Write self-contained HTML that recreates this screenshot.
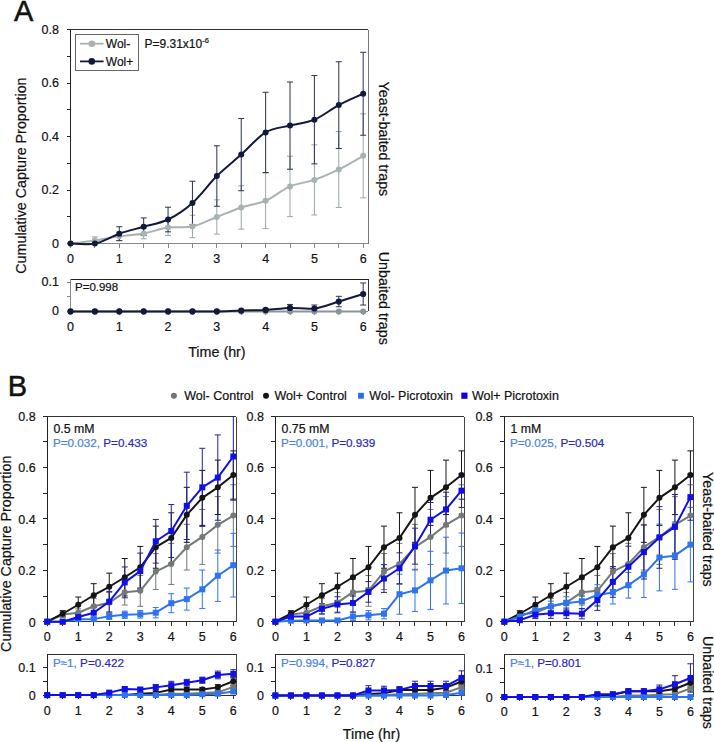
<!DOCTYPE html>
<html><head><meta charset="utf-8"><style>
html,body{margin:0;padding:0;background:#fff;width:714px;height:742px;overflow:hidden}
svg{display:block;font-family:"Liberation Sans", sans-serif}
</style></head><body>
<svg width="714" height="742" viewBox="0 0 714 742">
<rect width="714" height="742" fill="#fff"/>
<text x="13.9" y="20.6" font-size="29" text-anchor="start" fill="#111" stroke="#111" stroke-width="0.2" style="stroke-width:0.5px">A</text>
<line x1="70.5" y1="29.5" x2="368" y2="29.5" stroke="#333" stroke-width="1" shape-rendering="crispEdges"/>
<line x1="368" y1="29.5" x2="368" y2="243.6" stroke="#777" stroke-width="1" shape-rendering="crispEdges"/>
<clipPath id="ca1"><rect x="66.5" y="29.5" width="305.5" height="220.1"/></clipPath>
<g clip-path="url(#ca1)">
<line x1="94.89" y1="236.91" x2="94.89" y2="243.6" stroke="#9aa6a6" stroke-width="1" />
<line x1="91.89" y1="236.91" x2="97.89" y2="236.91" stroke="#9aa6a6" stroke-width="1" />
<line x1="91.89" y1="243.6" x2="97.89" y2="243.6" stroke="#9aa6a6" stroke-width="1" />
<line x1="119.28" y1="232.09" x2="119.28" y2="240.66" stroke="#9aa6a6" stroke-width="1" />
<line x1="116.28" y1="232.09" x2="122.28" y2="232.09" stroke="#9aa6a6" stroke-width="1" />
<line x1="116.28" y1="240.66" x2="122.28" y2="240.66" stroke="#9aa6a6" stroke-width="1" />
<line x1="143.67" y1="228.08" x2="143.67" y2="238.78" stroke="#9aa6a6" stroke-width="1" />
<line x1="140.67" y1="228.08" x2="146.67" y2="228.08" stroke="#9aa6a6" stroke-width="1" />
<line x1="140.67" y1="238.78" x2="146.67" y2="238.78" stroke="#9aa6a6" stroke-width="1" />
<line x1="168.06" y1="219.52" x2="168.06" y2="235.57" stroke="#9aa6a6" stroke-width="1" />
<line x1="165.06" y1="219.52" x2="171.06" y2="219.52" stroke="#9aa6a6" stroke-width="1" />
<line x1="165.06" y1="235.57" x2="171.06" y2="235.57" stroke="#9aa6a6" stroke-width="1" />
<line x1="192.45" y1="215.23" x2="192.45" y2="237.71" stroke="#9aa6a6" stroke-width="1" />
<line x1="189.45" y1="215.23" x2="195.45" y2="215.23" stroke="#9aa6a6" stroke-width="1" />
<line x1="189.45" y1="237.71" x2="195.45" y2="237.71" stroke="#9aa6a6" stroke-width="1" />
<line x1="216.84" y1="199.87" x2="216.84" y2="234.13" stroke="#9aa6a6" stroke-width="1" />
<line x1="213.84" y1="199.87" x2="219.84" y2="199.87" stroke="#9aa6a6" stroke-width="1" />
<line x1="213.84" y1="234.13" x2="219.84" y2="234.13" stroke="#9aa6a6" stroke-width="1" />
<line x1="241.23" y1="185.8" x2="241.23" y2="229.15" stroke="#9aa6a6" stroke-width="1" />
<line x1="238.23" y1="185.8" x2="244.23" y2="185.8" stroke="#9aa6a6" stroke-width="1" />
<line x1="238.23" y1="229.15" x2="244.23" y2="229.15" stroke="#9aa6a6" stroke-width="1" />
<line x1="265.62" y1="172.95" x2="265.62" y2="228.61" stroke="#9aa6a6" stroke-width="1" />
<line x1="262.62" y1="172.95" x2="268.62" y2="172.95" stroke="#9aa6a6" stroke-width="1" />
<line x1="262.62" y1="228.61" x2="268.62" y2="228.61" stroke="#9aa6a6" stroke-width="1" />
<line x1="290.01" y1="156.18" x2="290.01" y2="216.65" stroke="#9aa6a6" stroke-width="1" />
<line x1="287.01" y1="156.18" x2="293.01" y2="156.18" stroke="#9aa6a6" stroke-width="1" />
<line x1="287.01" y1="216.65" x2="293.01" y2="216.65" stroke="#9aa6a6" stroke-width="1" />
<line x1="314.4" y1="144.86" x2="314.4" y2="214.97" stroke="#9aa6a6" stroke-width="1" />
<line x1="311.4" y1="144.86" x2="317.4" y2="144.86" stroke="#9aa6a6" stroke-width="1" />
<line x1="311.4" y1="214.97" x2="317.4" y2="214.97" stroke="#9aa6a6" stroke-width="1" />
<line x1="338.79" y1="131.48" x2="338.79" y2="207.47" stroke="#9aa6a6" stroke-width="1" />
<line x1="335.79" y1="131.48" x2="341.79" y2="131.48" stroke="#9aa6a6" stroke-width="1" />
<line x1="335.79" y1="207.47" x2="341.79" y2="207.47" stroke="#9aa6a6" stroke-width="1" />
<line x1="363.18" y1="113.81" x2="363.18" y2="197.84" stroke="#9aa6a6" stroke-width="1" />
<line x1="360.18" y1="113.81" x2="366.18" y2="113.81" stroke="#9aa6a6" stroke-width="1" />
<line x1="360.18" y1="197.84" x2="366.18" y2="197.84" stroke="#9aa6a6" stroke-width="1" />
<line x1="119.28" y1="226.74" x2="119.28" y2="240.66" stroke="#2a3150" stroke-width="1" />
<line x1="116.28" y1="226.74" x2="122.28" y2="226.74" stroke="#2a3150" stroke-width="1" />
<line x1="116.28" y1="240.66" x2="122.28" y2="240.66" stroke="#2a3150" stroke-width="1" />
<line x1="143.67" y1="217.91" x2="143.67" y2="235.57" stroke="#2a3150" stroke-width="1" />
<line x1="140.67" y1="217.91" x2="146.67" y2="217.91" stroke="#2a3150" stroke-width="1" />
<line x1="140.67" y1="235.57" x2="146.67" y2="235.57" stroke="#2a3150" stroke-width="1" />
<line x1="168.06" y1="207.21" x2="168.06" y2="231.83" stroke="#2a3150" stroke-width="1" />
<line x1="165.06" y1="207.21" x2="171.06" y2="207.21" stroke="#2a3150" stroke-width="1" />
<line x1="165.06" y1="231.83" x2="171.06" y2="231.83" stroke="#2a3150" stroke-width="1" />
<line x1="192.45" y1="181.25" x2="192.45" y2="224.6" stroke="#2a3150" stroke-width="1" />
<line x1="189.45" y1="181.25" x2="195.45" y2="181.25" stroke="#2a3150" stroke-width="1" />
<line x1="189.45" y1="224.6" x2="195.45" y2="224.6" stroke="#2a3150" stroke-width="1" />
<line x1="216.84" y1="145.77" x2="216.84" y2="206.24" stroke="#2a3150" stroke-width="1" />
<line x1="213.84" y1="145.77" x2="219.84" y2="145.77" stroke="#2a3150" stroke-width="1" />
<line x1="213.84" y1="206.24" x2="219.84" y2="206.24" stroke="#2a3150" stroke-width="1" />
<line x1="241.23" y1="118.47" x2="241.23" y2="190.72" stroke="#2a3150" stroke-width="1" />
<line x1="238.23" y1="118.47" x2="244.23" y2="118.47" stroke="#2a3150" stroke-width="1" />
<line x1="238.23" y1="190.72" x2="244.23" y2="190.72" stroke="#2a3150" stroke-width="1" />
<line x1="265.62" y1="92.27" x2="265.62" y2="172.55" stroke="#2a3150" stroke-width="1" />
<line x1="262.62" y1="92.27" x2="268.62" y2="92.27" stroke="#2a3150" stroke-width="1" />
<line x1="262.62" y1="172.55" x2="268.62" y2="172.55" stroke="#2a3150" stroke-width="1" />
<line x1="290.01" y1="81.97" x2="290.01" y2="169.21" stroke="#2a3150" stroke-width="1" />
<line x1="287.01" y1="81.97" x2="293.01" y2="81.97" stroke="#2a3150" stroke-width="1" />
<line x1="287.01" y1="169.21" x2="293.01" y2="169.21" stroke="#2a3150" stroke-width="1" />
<line x1="314.4" y1="75.55" x2="314.4" y2="163.86" stroke="#2a3150" stroke-width="1" />
<line x1="311.4" y1="75.55" x2="317.4" y2="75.55" stroke="#2a3150" stroke-width="1" />
<line x1="311.4" y1="163.86" x2="317.4" y2="163.86" stroke="#2a3150" stroke-width="1" />
<line x1="338.79" y1="61.74" x2="338.79" y2="148.44" stroke="#2a3150" stroke-width="1" />
<line x1="335.79" y1="61.74" x2="341.79" y2="61.74" stroke="#2a3150" stroke-width="1" />
<line x1="335.79" y1="148.44" x2="341.79" y2="148.44" stroke="#2a3150" stroke-width="1" />
<line x1="363.18" y1="52.27" x2="363.18" y2="135.22" stroke="#2a3150" stroke-width="1" />
<line x1="360.18" y1="52.27" x2="366.18" y2="52.27" stroke="#2a3150" stroke-width="1" />
<line x1="360.18" y1="135.22" x2="366.18" y2="135.22" stroke="#2a3150" stroke-width="1" />
</g>
<line x1="70.5" y1="29.5" x2="70.5" y2="243.6" stroke="#222" stroke-width="1" shape-rendering="crispEdges"/>
<line x1="70.5" y1="243.6" x2="368" y2="243.6" stroke="#888" stroke-width="1" shape-rendering="crispEdges"/>
<line x1="66.5" y1="243.6" x2="70.5" y2="243.6" stroke="#222" stroke-width="1" shape-rendering="crispEdges"/>
<line x1="66.5" y1="216.84" x2="70.5" y2="216.84" stroke="#222" stroke-width="1" shape-rendering="crispEdges"/>
<line x1="66.5" y1="190.08" x2="70.5" y2="190.08" stroke="#222" stroke-width="1" shape-rendering="crispEdges"/>
<line x1="66.5" y1="163.32" x2="70.5" y2="163.32" stroke="#222" stroke-width="1" shape-rendering="crispEdges"/>
<line x1="66.5" y1="136.56" x2="70.5" y2="136.56" stroke="#222" stroke-width="1" shape-rendering="crispEdges"/>
<line x1="66.5" y1="109.8" x2="70.5" y2="109.8" stroke="#222" stroke-width="1" shape-rendering="crispEdges"/>
<line x1="66.5" y1="83.04" x2="70.5" y2="83.04" stroke="#222" stroke-width="1" shape-rendering="crispEdges"/>
<line x1="66.5" y1="56.28" x2="70.5" y2="56.28" stroke="#222" stroke-width="1" shape-rendering="crispEdges"/>
<line x1="66.5" y1="29.52" x2="70.5" y2="29.52" stroke="#222" stroke-width="1" shape-rendering="crispEdges"/>
<text x="59" y="247.6" font-size="12.5" text-anchor="end" fill="#111" stroke="#111" stroke-width="0.2" >0</text>
<text x="59" y="194.08" font-size="12.5" text-anchor="end" fill="#111" stroke="#111" stroke-width="0.2" >0.2</text>
<text x="59" y="140.56" font-size="12.5" text-anchor="end" fill="#111" stroke="#111" stroke-width="0.2" >0.4</text>
<text x="59" y="87.04" font-size="12.5" text-anchor="end" fill="#111" stroke="#111" stroke-width="0.2" >0.6</text>
<text x="59" y="33.52" font-size="12.5" text-anchor="end" fill="#111" stroke="#111" stroke-width="0.2" >0.8</text>
<line x1="70.5" y1="243.6" x2="70.5" y2="247.6" stroke="#888" stroke-width="1" shape-rendering="crispEdges"/>
<line x1="94.89" y1="243.6" x2="94.89" y2="247.6" stroke="#888" stroke-width="1" shape-rendering="crispEdges"/>
<line x1="119.28" y1="243.6" x2="119.28" y2="247.6" stroke="#888" stroke-width="1" shape-rendering="crispEdges"/>
<line x1="143.67" y1="243.6" x2="143.67" y2="247.6" stroke="#888" stroke-width="1" shape-rendering="crispEdges"/>
<line x1="168.06" y1="243.6" x2="168.06" y2="247.6" stroke="#888" stroke-width="1" shape-rendering="crispEdges"/>
<line x1="192.45" y1="243.6" x2="192.45" y2="247.6" stroke="#888" stroke-width="1" shape-rendering="crispEdges"/>
<line x1="216.84" y1="243.6" x2="216.84" y2="247.6" stroke="#888" stroke-width="1" shape-rendering="crispEdges"/>
<line x1="241.23" y1="243.6" x2="241.23" y2="247.6" stroke="#888" stroke-width="1" shape-rendering="crispEdges"/>
<line x1="265.62" y1="243.6" x2="265.62" y2="247.6" stroke="#888" stroke-width="1" shape-rendering="crispEdges"/>
<line x1="290.01" y1="243.6" x2="290.01" y2="247.6" stroke="#888" stroke-width="1" shape-rendering="crispEdges"/>
<line x1="314.4" y1="243.6" x2="314.4" y2="247.6" stroke="#888" stroke-width="1" shape-rendering="crispEdges"/>
<line x1="338.79" y1="243.6" x2="338.79" y2="247.6" stroke="#888" stroke-width="1" shape-rendering="crispEdges"/>
<line x1="363.18" y1="243.6" x2="363.18" y2="247.6" stroke="#888" stroke-width="1" shape-rendering="crispEdges"/>
<text x="70.5" y="263.1" font-size="12.5" text-anchor="middle" fill="#111" stroke="#111" stroke-width="0.2" >0</text>
<text x="119.28" y="263.1" font-size="12.5" text-anchor="middle" fill="#111" stroke="#111" stroke-width="0.2" >1</text>
<text x="168.06" y="263.1" font-size="12.5" text-anchor="middle" fill="#111" stroke="#111" stroke-width="0.2" >2</text>
<text x="216.84" y="263.1" font-size="12.5" text-anchor="middle" fill="#111" stroke="#111" stroke-width="0.2" >3</text>
<text x="265.62" y="263.1" font-size="12.5" text-anchor="middle" fill="#111" stroke="#111" stroke-width="0.2" >4</text>
<text x="314.4" y="263.1" font-size="12.5" text-anchor="middle" fill="#111" stroke="#111" stroke-width="0.2" >5</text>
<text x="363.18" y="263.1" font-size="12.5" text-anchor="middle" fill="#111" stroke="#111" stroke-width="0.2" >6</text>
<g clip-path="url(#ca1)">
<path d="M70.5,243.6 C74.56,243.06 86.76,241.59 94.89,240.39 C103.02,239.18 111.15,237.53 119.28,236.37 C127.41,235.22 135.54,234.9 143.67,233.43 C151.8,231.96 159.93,228.7 168.06,227.54 C176.19,226.38 184.32,228.23 192.45,226.47 C200.58,224.72 208.71,220.17 216.84,217 C224.97,213.83 233.1,210.18 241.23,207.47 C249.36,204.77 257.49,204.29 265.62,200.78 C273.75,197.27 281.88,189.89 290.01,186.41 C298.14,182.94 306.27,182.73 314.4,179.91 C322.53,177.09 330.66,173.49 338.79,169.47 C346.92,165.46 359.12,158.1 363.18,155.83" fill="none" stroke="#a7b3b3" stroke-width="2" stroke-linejoin="round"/>
<circle cx="70.5" cy="243.6" r="3" fill="#a7b3b3"/>
<circle cx="94.89" cy="240.39" r="3" fill="#a7b3b3"/>
<circle cx="119.28" cy="236.37" r="3" fill="#a7b3b3"/>
<circle cx="143.67" cy="233.43" r="3" fill="#a7b3b3"/>
<circle cx="168.06" cy="227.54" r="3" fill="#a7b3b3"/>
<circle cx="192.45" cy="226.47" r="3" fill="#a7b3b3"/>
<circle cx="216.84" cy="217" r="3" fill="#a7b3b3"/>
<circle cx="241.23" cy="207.47" r="3" fill="#a7b3b3"/>
<circle cx="265.62" cy="200.78" r="3" fill="#a7b3b3"/>
<circle cx="290.01" cy="186.41" r="3" fill="#a7b3b3"/>
<circle cx="314.4" cy="179.91" r="3" fill="#a7b3b3"/>
<circle cx="338.79" cy="169.47" r="3" fill="#a7b3b3"/>
<circle cx="363.18" cy="155.83" r="3" fill="#a7b3b3"/>
<path d="M70.5,243.6 C74.56,243.6 86.76,245.25 94.89,243.6 C103.02,241.95 111.15,236.51 119.28,233.7 C127.41,230.89 135.54,229.1 143.67,226.74 C151.8,224.38 159.93,223.49 168.06,219.52 C176.19,215.55 184.32,210.18 192.45,202.92 C200.58,195.67 208.71,184.06 216.84,176 C224.97,167.95 233.1,161.86 241.23,154.6 C249.36,147.33 257.49,137.25 265.62,132.41 C273.75,127.58 281.88,127.71 290.01,125.59 C298.14,123.47 306.27,123.12 314.4,119.7 C322.53,116.28 330.66,109.42 338.79,105.09 C346.92,100.76 359.12,95.64 363.18,93.74" fill="none" stroke="#111a3a" stroke-width="2" stroke-linejoin="round"/>
<circle cx="70.5" cy="243.6" r="3" fill="#111a3a"/>
<circle cx="94.89" cy="243.6" r="3" fill="#111a3a"/>
<circle cx="119.28" cy="233.7" r="3" fill="#111a3a"/>
<circle cx="143.67" cy="226.74" r="3" fill="#111a3a"/>
<circle cx="168.06" cy="219.52" r="3" fill="#111a3a"/>
<circle cx="192.45" cy="202.92" r="3" fill="#111a3a"/>
<circle cx="216.84" cy="176" r="3" fill="#111a3a"/>
<circle cx="241.23" cy="154.6" r="3" fill="#111a3a"/>
<circle cx="265.62" cy="132.41" r="3" fill="#111a3a"/>
<circle cx="290.01" cy="125.59" r="3" fill="#111a3a"/>
<circle cx="314.4" cy="119.7" r="3" fill="#111a3a"/>
<circle cx="338.79" cy="105.09" r="3" fill="#111a3a"/>
<circle cx="363.18" cy="93.74" r="3" fill="#111a3a"/>
</g>
<rect x="75.5" y="34.5" width="63" height="36" fill="#fff" stroke="#666" stroke-width="1"/>
<line x1="80" y1="43.7" x2="103.6" y2="43.7" stroke="#a7b3b3" stroke-width="1.8" />
<circle cx="91.8" cy="43.7" r="3.3" fill="#a7b3b3"/>
<line x1="80" y1="61.4" x2="103.6" y2="61.4" stroke="#111a3a" stroke-width="1.8" />
<circle cx="91.8" cy="61.4" r="3.3" fill="#111a3a"/>
<text x="105.8" y="47.8" font-size="12" text-anchor="start" fill="#111" stroke="#111" stroke-width="0.2" >Wol-</text>
<text x="105.8" y="65.5" font-size="12" text-anchor="start" fill="#111" stroke="#111" stroke-width="0.2" >Wol+</text>
<text x="144.5" y="47.7" font-size="12" fill="#111" stroke="#111" stroke-width="0.2">P=9.31x10<tspan font-size="7.5" dy="-5">-6</tspan></text>
<line x1="70.5" y1="279.3" x2="368" y2="279.3" stroke="#222" stroke-width="1" shape-rendering="crispEdges"/>
<line x1="368" y1="279.3" x2="368" y2="311.4" stroke="#333" stroke-width="1" shape-rendering="crispEdges"/>
<clipPath id="ca2"><rect x="66.5" y="279.3" width="305.5" height="38.1"/></clipPath>
<g clip-path="url(#ca2)">
<line x1="265.62" y1="308.79" x2="265.62" y2="311.11" stroke="#2a3150" stroke-width="1" />
<line x1="262.62" y1="308.79" x2="268.62" y2="308.79" stroke="#2a3150" stroke-width="1" />
<line x1="262.62" y1="311.11" x2="268.62" y2="311.11" stroke="#2a3150" stroke-width="1" />
<line x1="290.01" y1="304.44" x2="290.01" y2="311.4" stroke="#2a3150" stroke-width="1" />
<line x1="287.01" y1="304.44" x2="293.01" y2="304.44" stroke="#2a3150" stroke-width="1" />
<line x1="287.01" y1="311.4" x2="293.01" y2="311.4" stroke="#2a3150" stroke-width="1" />
<line x1="314.4" y1="305.02" x2="314.4" y2="311.4" stroke="#2a3150" stroke-width="1" />
<line x1="311.4" y1="305.02" x2="317.4" y2="305.02" stroke="#2a3150" stroke-width="1" />
<line x1="311.4" y1="311.4" x2="317.4" y2="311.4" stroke="#2a3150" stroke-width="1" />
<line x1="338.79" y1="296.32" x2="338.79" y2="306.76" stroke="#2a3150" stroke-width="1" />
<line x1="335.79" y1="296.32" x2="341.79" y2="296.32" stroke="#2a3150" stroke-width="1" />
<line x1="335.79" y1="306.76" x2="341.79" y2="306.76" stroke="#2a3150" stroke-width="1" />
<line x1="363.18" y1="282.98" x2="363.18" y2="305.02" stroke="#2a3150" stroke-width="1" />
<line x1="360.18" y1="282.98" x2="366.18" y2="282.98" stroke="#2a3150" stroke-width="1" />
<line x1="360.18" y1="305.02" x2="366.18" y2="305.02" stroke="#2a3150" stroke-width="1" />
</g>
<line x1="70.5" y1="279.3" x2="70.5" y2="311.4" stroke="#888" stroke-width="1.6" shape-rendering="crispEdges"/>
<line x1="70.5" y1="311.4" x2="368" y2="311.4" stroke="#888" stroke-width="1" shape-rendering="crispEdges"/>
<line x1="66.5" y1="311.4" x2="70.5" y2="311.4" stroke="#888" stroke-width="1" shape-rendering="crispEdges"/>
<line x1="66.5" y1="296.9" x2="70.5" y2="296.9" stroke="#888" stroke-width="1" shape-rendering="crispEdges"/>
<line x1="66.5" y1="282.4" x2="70.5" y2="282.4" stroke="#888" stroke-width="1" shape-rendering="crispEdges"/>
<text x="59" y="315.4" font-size="12.5" text-anchor="end" fill="#111" stroke="#111" stroke-width="0.2" >0</text>
<text x="59" y="286.4" font-size="12.5" text-anchor="end" fill="#111" stroke="#111" stroke-width="0.2" >0.1</text>
<line x1="70.5" y1="311.4" x2="70.5" y2="315.4" stroke="#888" stroke-width="1" shape-rendering="crispEdges"/>
<line x1="94.89" y1="311.4" x2="94.89" y2="315.4" stroke="#888" stroke-width="1" shape-rendering="crispEdges"/>
<line x1="119.28" y1="311.4" x2="119.28" y2="315.4" stroke="#888" stroke-width="1" shape-rendering="crispEdges"/>
<line x1="143.67" y1="311.4" x2="143.67" y2="315.4" stroke="#888" stroke-width="1" shape-rendering="crispEdges"/>
<line x1="168.06" y1="311.4" x2="168.06" y2="315.4" stroke="#888" stroke-width="1" shape-rendering="crispEdges"/>
<line x1="192.45" y1="311.4" x2="192.45" y2="315.4" stroke="#888" stroke-width="1" shape-rendering="crispEdges"/>
<line x1="216.84" y1="311.4" x2="216.84" y2="315.4" stroke="#888" stroke-width="1" shape-rendering="crispEdges"/>
<line x1="241.23" y1="311.4" x2="241.23" y2="315.4" stroke="#888" stroke-width="1" shape-rendering="crispEdges"/>
<line x1="265.62" y1="311.4" x2="265.62" y2="315.4" stroke="#888" stroke-width="1" shape-rendering="crispEdges"/>
<line x1="290.01" y1="311.4" x2="290.01" y2="315.4" stroke="#888" stroke-width="1" shape-rendering="crispEdges"/>
<line x1="314.4" y1="311.4" x2="314.4" y2="315.4" stroke="#888" stroke-width="1" shape-rendering="crispEdges"/>
<line x1="338.79" y1="311.4" x2="338.79" y2="315.4" stroke="#888" stroke-width="1" shape-rendering="crispEdges"/>
<line x1="363.18" y1="311.4" x2="363.18" y2="315.4" stroke="#888" stroke-width="1" shape-rendering="crispEdges"/>
<text x="70.5" y="331.2" font-size="12.5" text-anchor="middle" fill="#111" stroke="#111" stroke-width="0.2" >0</text>
<text x="119.28" y="331.2" font-size="12.5" text-anchor="middle" fill="#111" stroke="#111" stroke-width="0.2" >1</text>
<text x="168.06" y="331.2" font-size="12.5" text-anchor="middle" fill="#111" stroke="#111" stroke-width="0.2" >2</text>
<text x="216.84" y="331.2" font-size="12.5" text-anchor="middle" fill="#111" stroke="#111" stroke-width="0.2" >3</text>
<text x="265.62" y="331.2" font-size="12.5" text-anchor="middle" fill="#111" stroke="#111" stroke-width="0.2" >4</text>
<text x="314.4" y="331.2" font-size="12.5" text-anchor="middle" fill="#111" stroke="#111" stroke-width="0.2" >5</text>
<text x="363.18" y="331.2" font-size="12.5" text-anchor="middle" fill="#111" stroke="#111" stroke-width="0.2" >6</text>
<g clip-path="url(#ca2)">
<path d="M70.5,311.4 C74.56,311.4 86.76,311.4 94.89,311.4 C103.02,311.4 111.15,311.4 119.28,311.4 C127.41,311.4 135.54,311.4 143.67,311.4 C151.8,311.4 159.93,311.4 168.06,311.4 C176.19,311.4 184.32,311.4 192.45,311.4 C200.58,311.4 208.71,311.4 216.84,311.4 C224.97,311.4 233.1,311.4 241.23,311.4 C249.36,311.4 257.49,311.4 265.62,311.4 C273.75,311.4 281.88,311.4 290.01,311.4 C298.14,311.4 306.27,311.4 314.4,311.4 C322.53,311.4 330.66,311.4 338.79,311.4 C346.92,311.4 359.12,311.4 363.18,311.4" fill="none" stroke="#8a9494" stroke-width="2" stroke-linejoin="round"/>
<circle cx="70.5" cy="311.4" r="3" fill="#8a9494"/>
<circle cx="94.89" cy="311.4" r="3" fill="#8a9494"/>
<circle cx="119.28" cy="311.4" r="3" fill="#8a9494"/>
<circle cx="143.67" cy="311.4" r="3" fill="#8a9494"/>
<circle cx="168.06" cy="311.4" r="3" fill="#8a9494"/>
<circle cx="192.45" cy="311.4" r="3" fill="#8a9494"/>
<circle cx="216.84" cy="311.4" r="3" fill="#8a9494"/>
<circle cx="241.23" cy="311.4" r="3" fill="#8a9494"/>
<circle cx="265.62" cy="311.4" r="3" fill="#8a9494"/>
<circle cx="290.01" cy="311.4" r="3" fill="#8a9494"/>
<circle cx="314.4" cy="311.4" r="3" fill="#8a9494"/>
<circle cx="338.79" cy="311.4" r="3" fill="#8a9494"/>
<circle cx="363.18" cy="311.4" r="3" fill="#8a9494"/>
<path d="M70.5,311.4 C74.56,311.4 86.76,311.4 94.89,311.4 C103.02,311.4 111.15,311.4 119.28,311.4 C127.41,311.4 135.54,311.4 143.67,311.4 C151.8,311.4 159.93,311.4 168.06,311.4 C176.19,311.4 184.32,311.4 192.45,311.4 C200.58,311.4 208.71,311.54 216.84,311.4 C224.97,311.25 233.1,310.77 241.23,310.53 C249.36,310.29 257.49,310.38 265.62,309.95 C273.75,309.51 281.88,308.16 290.01,307.92 C298.14,307.68 306.27,309.56 314.4,308.5 C322.53,307.44 330.66,303.96 338.79,301.54 C346.92,299.12 359.12,295.26 363.18,294" fill="none" stroke="#111a3a" stroke-width="2" stroke-linejoin="round"/>
<circle cx="70.5" cy="311.4" r="3.1" fill="#111a3a"/>
<circle cx="94.89" cy="311.4" r="3.1" fill="#111a3a"/>
<circle cx="119.28" cy="311.4" r="3.1" fill="#111a3a"/>
<circle cx="143.67" cy="311.4" r="3.1" fill="#111a3a"/>
<circle cx="168.06" cy="311.4" r="3.1" fill="#111a3a"/>
<circle cx="192.45" cy="311.4" r="3.1" fill="#111a3a"/>
<circle cx="216.84" cy="311.4" r="3.1" fill="#111a3a"/>
<circle cx="241.23" cy="310.53" r="3.1" fill="#111a3a"/>
<circle cx="265.62" cy="309.95" r="3.1" fill="#111a3a"/>
<circle cx="290.01" cy="307.92" r="3.1" fill="#111a3a"/>
<circle cx="314.4" cy="308.5" r="3.1" fill="#111a3a"/>
<circle cx="338.79" cy="301.54" r="3.1" fill="#111a3a"/>
<circle cx="363.18" cy="294" r="3.1" fill="#111a3a"/>
</g>
<text x="75" y="290.5" font-size="11.5" text-anchor="start" fill="#111" stroke="#111" stroke-width="0.2" >P=0.998</text>
<text transform="translate(26.3,175.6) rotate(-90)" font-size="14.3" text-anchor="middle" fill="#111" stroke="#111" stroke-width="0.2">Cumulative Capture Proportion</text>
<text transform="translate(378.7,138.9) rotate(90)" font-size="14.3" text-anchor="middle" fill="#111" stroke="#111" stroke-width="0.2">Yeast-baited traps</text>
<text transform="translate(378.7,298.3) rotate(90)" font-size="14.3" text-anchor="middle" fill="#111" stroke="#111" stroke-width="0.2">Unbaited traps</text>
<text x="216.9" y="356.6" font-size="14.3" text-anchor="middle" fill="#111" stroke="#111" stroke-width="0.2" >Time (hr)</text>
<text x="7.8" y="396.3" font-size="29" text-anchor="start" fill="#111" stroke="#111" stroke-width="0.2" style="stroke-width:0.5px">B</text>
<circle cx="173.9" cy="395.7" r="3" fill="#6f7673"/>
<text x="184.3" y="399.7" font-size="12.5" text-anchor="start" fill="#111" stroke="#111" stroke-width="0.2" >Wol- Control</text>
<circle cx="266" cy="395.7" r="3" fill="#151515"/>
<text x="274.5" y="399.7" font-size="12.5" text-anchor="start" fill="#111" stroke="#111" stroke-width="0.2" >Wol+ Control</text>
<rect x="358.1" y="392.8" width="5.8" height="5.9" fill="#2a6cf0"/>
<text x="369.2" y="399.7" font-size="12.5" text-anchor="start" fill="#111" stroke="#111" stroke-width="0.2" >Wol- Picrotoxin</text>
<rect x="461.3" y="392.6" width="6.2" height="6.2" fill="#1200d2"/>
<text x="471.9" y="399.7" font-size="12.5" text-anchor="start" fill="#111" stroke="#111" stroke-width="0.2" >Wol+ Picrotoxin</text>
<line x1="47.2" y1="416.5" x2="236.2" y2="416.5" stroke="#333" stroke-width="1" shape-rendering="crispEdges"/>
<line x1="236.2" y1="416.5" x2="236.2" y2="621.7" stroke="#444" stroke-width="1" shape-rendering="crispEdges"/>
<clipPath id="cb0m"><rect x="43.2" y="416.5" width="197" height="211.2"/></clipPath>
<g clip-path="url(#cb0m)">
<line x1="62.71" y1="611.94" x2="62.71" y2="617.08" stroke="#737977" stroke-width="1" />
<line x1="59.71" y1="611.94" x2="65.71" y2="611.94" stroke="#737977" stroke-width="1" />
<line x1="59.71" y1="617.08" x2="65.71" y2="617.08" stroke="#737977" stroke-width="1" />
<line x1="78.22" y1="608.86" x2="78.22" y2="616.56" stroke="#737977" stroke-width="1" />
<line x1="75.22" y1="608.86" x2="81.22" y2="608.86" stroke="#737977" stroke-width="1" />
<line x1="75.22" y1="616.56" x2="81.22" y2="616.56" stroke="#737977" stroke-width="1" />
<line x1="93.73" y1="598.58" x2="93.73" y2="613.99" stroke="#737977" stroke-width="1" />
<line x1="90.73" y1="598.58" x2="96.73" y2="598.58" stroke="#737977" stroke-width="1" />
<line x1="90.73" y1="613.99" x2="96.73" y2="613.99" stroke="#737977" stroke-width="1" />
<line x1="109.24" y1="592.41" x2="109.24" y2="612.97" stroke="#737977" stroke-width="1" />
<line x1="106.24" y1="592.41" x2="112.24" y2="592.41" stroke="#737977" stroke-width="1" />
<line x1="106.24" y1="612.97" x2="112.24" y2="612.97" stroke="#737977" stroke-width="1" />
<line x1="124.75" y1="579.31" x2="124.75" y2="605" stroke="#737977" stroke-width="1" />
<line x1="121.75" y1="579.31" x2="127.75" y2="579.31" stroke="#737977" stroke-width="1" />
<line x1="121.75" y1="605" x2="127.75" y2="605" stroke="#737977" stroke-width="1" />
<line x1="140.26" y1="575.46" x2="140.26" y2="606.29" stroke="#737977" stroke-width="1" />
<line x1="137.26" y1="575.46" x2="143.26" y2="575.46" stroke="#737977" stroke-width="1" />
<line x1="137.26" y1="606.29" x2="143.26" y2="606.29" stroke="#737977" stroke-width="1" />
<line x1="155.77" y1="553.62" x2="155.77" y2="589.59" stroke="#737977" stroke-width="1" />
<line x1="152.77" y1="553.62" x2="158.77" y2="553.62" stroke="#737977" stroke-width="1" />
<line x1="152.77" y1="589.59" x2="158.77" y2="589.59" stroke="#737977" stroke-width="1" />
<line x1="171.28" y1="543.35" x2="171.28" y2="584.45" stroke="#737977" stroke-width="1" />
<line x1="168.28" y1="543.35" x2="174.28" y2="543.35" stroke="#737977" stroke-width="1" />
<line x1="168.28" y1="584.45" x2="174.28" y2="584.45" stroke="#737977" stroke-width="1" />
<line x1="186.79" y1="524.33" x2="186.79" y2="570.06" stroke="#737977" stroke-width="1" />
<line x1="183.79" y1="524.33" x2="189.79" y2="524.33" stroke="#737977" stroke-width="1" />
<line x1="183.79" y1="570.06" x2="189.79" y2="570.06" stroke="#737977" stroke-width="1" />
<line x1="202.3" y1="509.43" x2="202.3" y2="564.41" stroke="#737977" stroke-width="1" />
<line x1="199.3" y1="509.43" x2="205.3" y2="509.43" stroke="#737977" stroke-width="1" />
<line x1="199.3" y1="564.41" x2="205.3" y2="564.41" stroke="#737977" stroke-width="1" />
<line x1="217.81" y1="496.59" x2="217.81" y2="553.11" stroke="#737977" stroke-width="1" />
<line x1="214.81" y1="496.59" x2="220.81" y2="496.59" stroke="#737977" stroke-width="1" />
<line x1="214.81" y1="553.11" x2="220.81" y2="553.11" stroke="#737977" stroke-width="1" />
<line x1="233.32" y1="484.77" x2="233.32" y2="546.43" stroke="#737977" stroke-width="1" />
<line x1="230.32" y1="484.77" x2="236.32" y2="484.77" stroke="#737977" stroke-width="1" />
<line x1="230.32" y1="546.43" x2="236.32" y2="546.43" stroke="#737977" stroke-width="1" />
<line x1="62.71" y1="610.65" x2="62.71" y2="616.82" stroke="#151515" stroke-width="1" />
<line x1="59.71" y1="610.65" x2="65.71" y2="610.65" stroke="#151515" stroke-width="1" />
<line x1="59.71" y1="616.82" x2="65.71" y2="616.82" stroke="#151515" stroke-width="1" />
<line x1="78.22" y1="597.04" x2="78.22" y2="612.45" stroke="#151515" stroke-width="1" />
<line x1="75.22" y1="597.04" x2="81.22" y2="597.04" stroke="#151515" stroke-width="1" />
<line x1="75.22" y1="612.45" x2="81.22" y2="612.45" stroke="#151515" stroke-width="1" />
<line x1="93.73" y1="583.68" x2="93.73" y2="606.8" stroke="#151515" stroke-width="1" />
<line x1="90.73" y1="583.68" x2="96.73" y2="583.68" stroke="#151515" stroke-width="1" />
<line x1="90.73" y1="606.8" x2="96.73" y2="606.8" stroke="#151515" stroke-width="1" />
<line x1="109.24" y1="573.15" x2="109.24" y2="600.38" stroke="#151515" stroke-width="1" />
<line x1="106.24" y1="573.15" x2="112.24" y2="573.15" stroke="#151515" stroke-width="1" />
<line x1="106.24" y1="600.38" x2="112.24" y2="600.38" stroke="#151515" stroke-width="1" />
<line x1="124.75" y1="558.5" x2="124.75" y2="596.01" stroke="#151515" stroke-width="1" />
<line x1="121.75" y1="558.5" x2="127.75" y2="558.5" stroke="#151515" stroke-width="1" />
<line x1="121.75" y1="596.01" x2="127.75" y2="596.01" stroke="#151515" stroke-width="1" />
<line x1="140.26" y1="546.43" x2="140.26" y2="588.05" stroke="#151515" stroke-width="1" />
<line x1="137.26" y1="546.43" x2="143.26" y2="546.43" stroke="#151515" stroke-width="1" />
<line x1="137.26" y1="588.05" x2="143.26" y2="588.05" stroke="#151515" stroke-width="1" />
<line x1="155.77" y1="526.13" x2="155.77" y2="568.26" stroke="#151515" stroke-width="1" />
<line x1="152.77" y1="526.13" x2="158.77" y2="526.13" stroke="#151515" stroke-width="1" />
<line x1="152.77" y1="568.26" x2="158.77" y2="568.26" stroke="#151515" stroke-width="1" />
<line x1="171.28" y1="512.77" x2="171.28" y2="563.13" stroke="#151515" stroke-width="1" />
<line x1="168.28" y1="512.77" x2="174.28" y2="512.77" stroke="#151515" stroke-width="1" />
<line x1="168.28" y1="563.13" x2="174.28" y2="563.13" stroke="#151515" stroke-width="1" />
<line x1="186.79" y1="487.34" x2="186.79" y2="542.32" stroke="#151515" stroke-width="1" />
<line x1="183.79" y1="487.34" x2="189.79" y2="487.34" stroke="#151515" stroke-width="1" />
<line x1="183.79" y1="542.32" x2="189.79" y2="542.32" stroke="#151515" stroke-width="1" />
<line x1="202.3" y1="470.39" x2="202.3" y2="525.36" stroke="#151515" stroke-width="1" />
<line x1="199.3" y1="470.39" x2="205.3" y2="470.39" stroke="#151515" stroke-width="1" />
<line x1="199.3" y1="525.36" x2="205.3" y2="525.36" stroke="#151515" stroke-width="1" />
<line x1="217.81" y1="460.11" x2="217.81" y2="514.57" stroke="#151515" stroke-width="1" />
<line x1="214.81" y1="460.11" x2="220.81" y2="460.11" stroke="#151515" stroke-width="1" />
<line x1="214.81" y1="514.57" x2="220.81" y2="514.57" stroke="#151515" stroke-width="1" />
<line x1="233.32" y1="450.86" x2="233.32" y2="499.16" stroke="#151515" stroke-width="1" />
<line x1="230.32" y1="450.86" x2="236.32" y2="450.86" stroke="#151515" stroke-width="1" />
<line x1="230.32" y1="499.16" x2="236.32" y2="499.16" stroke="#151515" stroke-width="1" />
<line x1="78.22" y1="617.85" x2="78.22" y2="620.42" stroke="#2f74ee" stroke-width="1" />
<line x1="75.22" y1="617.85" x2="81.22" y2="617.85" stroke="#2f74ee" stroke-width="1" />
<line x1="75.22" y1="620.42" x2="81.22" y2="620.42" stroke="#2f74ee" stroke-width="1" />
<line x1="93.73" y1="617.08" x2="93.73" y2="621.19" stroke="#2f74ee" stroke-width="1" />
<line x1="90.73" y1="617.08" x2="96.73" y2="617.08" stroke="#2f74ee" stroke-width="1" />
<line x1="90.73" y1="621.19" x2="96.73" y2="621.19" stroke="#2f74ee" stroke-width="1" />
<line x1="109.24" y1="613.22" x2="109.24" y2="619.39" stroke="#2f74ee" stroke-width="1" />
<line x1="106.24" y1="613.22" x2="112.24" y2="613.22" stroke="#2f74ee" stroke-width="1" />
<line x1="106.24" y1="619.39" x2="112.24" y2="619.39" stroke="#2f74ee" stroke-width="1" />
<line x1="124.75" y1="611.17" x2="124.75" y2="618.36" stroke="#2f74ee" stroke-width="1" />
<line x1="121.75" y1="611.17" x2="127.75" y2="611.17" stroke="#2f74ee" stroke-width="1" />
<line x1="121.75" y1="618.36" x2="127.75" y2="618.36" stroke="#2f74ee" stroke-width="1" />
<line x1="140.26" y1="610.4" x2="140.26" y2="618.1" stroke="#2f74ee" stroke-width="1" />
<line x1="137.26" y1="610.4" x2="143.26" y2="610.4" stroke="#2f74ee" stroke-width="1" />
<line x1="137.26" y1="618.1" x2="143.26" y2="618.1" stroke="#2f74ee" stroke-width="1" />
<line x1="155.77" y1="607.57" x2="155.77" y2="617.85" stroke="#2f74ee" stroke-width="1" />
<line x1="152.77" y1="607.57" x2="158.77" y2="607.57" stroke="#2f74ee" stroke-width="1" />
<line x1="152.77" y1="617.85" x2="158.77" y2="617.85" stroke="#2f74ee" stroke-width="1" />
<line x1="171.28" y1="593.7" x2="171.28" y2="612.71" stroke="#2f74ee" stroke-width="1" />
<line x1="168.28" y1="593.7" x2="174.28" y2="593.7" stroke="#2f74ee" stroke-width="1" />
<line x1="168.28" y1="612.71" x2="174.28" y2="612.71" stroke="#2f74ee" stroke-width="1" />
<line x1="186.79" y1="588.05" x2="186.79" y2="610.14" stroke="#2f74ee" stroke-width="1" />
<line x1="183.79" y1="588.05" x2="189.79" y2="588.05" stroke="#2f74ee" stroke-width="1" />
<line x1="183.79" y1="610.14" x2="189.79" y2="610.14" stroke="#2f74ee" stroke-width="1" />
<line x1="202.3" y1="570.06" x2="202.3" y2="608.6" stroke="#2f74ee" stroke-width="1" />
<line x1="199.3" y1="570.06" x2="205.3" y2="570.06" stroke="#2f74ee" stroke-width="1" />
<line x1="199.3" y1="608.6" x2="205.3" y2="608.6" stroke="#2f74ee" stroke-width="1" />
<line x1="217.81" y1="550.02" x2="217.81" y2="601.4" stroke="#2f74ee" stroke-width="1" />
<line x1="214.81" y1="550.02" x2="220.81" y2="550.02" stroke="#2f74ee" stroke-width="1" />
<line x1="214.81" y1="601.4" x2="220.81" y2="601.4" stroke="#2f74ee" stroke-width="1" />
<line x1="233.32" y1="533.33" x2="233.32" y2="597.04" stroke="#2f74ee" stroke-width="1" />
<line x1="230.32" y1="533.33" x2="236.32" y2="533.33" stroke="#2f74ee" stroke-width="1" />
<line x1="230.32" y1="597.04" x2="236.32" y2="597.04" stroke="#2f74ee" stroke-width="1" />
<line x1="78.22" y1="614.51" x2="78.22" y2="619.64" stroke="#22228f" stroke-width="1" />
<line x1="75.22" y1="614.51" x2="81.22" y2="614.51" stroke="#22228f" stroke-width="1" />
<line x1="75.22" y1="619.64" x2="81.22" y2="619.64" stroke="#22228f" stroke-width="1" />
<line x1="93.73" y1="607.57" x2="93.73" y2="617.85" stroke="#22228f" stroke-width="1" />
<line x1="90.73" y1="607.57" x2="96.73" y2="607.57" stroke="#22228f" stroke-width="1" />
<line x1="90.73" y1="617.85" x2="96.73" y2="617.85" stroke="#22228f" stroke-width="1" />
<line x1="109.24" y1="591.39" x2="109.24" y2="611.94" stroke="#22228f" stroke-width="1" />
<line x1="106.24" y1="591.39" x2="112.24" y2="591.39" stroke="#22228f" stroke-width="1" />
<line x1="106.24" y1="611.94" x2="112.24" y2="611.94" stroke="#22228f" stroke-width="1" />
<line x1="124.75" y1="566.98" x2="124.75" y2="597.81" stroke="#22228f" stroke-width="1" />
<line x1="121.75" y1="566.98" x2="127.75" y2="566.98" stroke="#22228f" stroke-width="1" />
<line x1="121.75" y1="597.81" x2="127.75" y2="597.81" stroke="#22228f" stroke-width="1" />
<line x1="140.26" y1="553.11" x2="140.26" y2="589.07" stroke="#22228f" stroke-width="1" />
<line x1="137.26" y1="553.11" x2="143.26" y2="553.11" stroke="#22228f" stroke-width="1" />
<line x1="137.26" y1="589.07" x2="143.26" y2="589.07" stroke="#22228f" stroke-width="1" />
<line x1="155.77" y1="519.45" x2="155.77" y2="563.13" stroke="#22228f" stroke-width="1" />
<line x1="152.77" y1="519.45" x2="158.77" y2="519.45" stroke="#22228f" stroke-width="1" />
<line x1="152.77" y1="563.13" x2="158.77" y2="563.13" stroke="#22228f" stroke-width="1" />
<line x1="171.28" y1="504.55" x2="171.28" y2="557.48" stroke="#22228f" stroke-width="1" />
<line x1="168.28" y1="504.55" x2="174.28" y2="504.55" stroke="#22228f" stroke-width="1" />
<line x1="168.28" y1="557.48" x2="174.28" y2="557.48" stroke="#22228f" stroke-width="1" />
<line x1="186.79" y1="472.18" x2="186.79" y2="539.49" stroke="#22228f" stroke-width="1" />
<line x1="183.79" y1="472.18" x2="189.79" y2="472.18" stroke="#22228f" stroke-width="1" />
<line x1="183.79" y1="539.49" x2="189.79" y2="539.49" stroke="#22228f" stroke-width="1" />
<line x1="202.3" y1="448.29" x2="202.3" y2="526.39" stroke="#22228f" stroke-width="1" />
<line x1="199.3" y1="448.29" x2="205.3" y2="448.29" stroke="#22228f" stroke-width="1" />
<line x1="199.3" y1="526.39" x2="205.3" y2="526.39" stroke="#22228f" stroke-width="1" />
<line x1="217.81" y1="434.93" x2="217.81" y2="520.22" stroke="#22228f" stroke-width="1" />
<line x1="214.81" y1="434.93" x2="220.81" y2="434.93" stroke="#22228f" stroke-width="1" />
<line x1="214.81" y1="520.22" x2="220.81" y2="520.22" stroke="#22228f" stroke-width="1" />
<line x1="233.32" y1="412.84" x2="233.32" y2="500.19" stroke="#22228f" stroke-width="1" />
<line x1="230.32" y1="412.84" x2="236.32" y2="412.84" stroke="#22228f" stroke-width="1" />
<line x1="230.32" y1="500.19" x2="236.32" y2="500.19" stroke="#22228f" stroke-width="1" />
</g>
<line x1="47.2" y1="416.5" x2="47.2" y2="621.7" stroke="#222" stroke-width="1" shape-rendering="crispEdges"/>
<line x1="47.2" y1="621.7" x2="236.2" y2="621.7" stroke="#333" stroke-width="1" shape-rendering="crispEdges"/>
<line x1="43.2" y1="621.7" x2="47.2" y2="621.7" stroke="#222" stroke-width="1" shape-rendering="crispEdges"/>
<line x1="43.2" y1="596.01" x2="47.2" y2="596.01" stroke="#222" stroke-width="1" shape-rendering="crispEdges"/>
<line x1="43.2" y1="570.32" x2="47.2" y2="570.32" stroke="#222" stroke-width="1" shape-rendering="crispEdges"/>
<line x1="43.2" y1="544.63" x2="47.2" y2="544.63" stroke="#222" stroke-width="1" shape-rendering="crispEdges"/>
<line x1="43.2" y1="518.94" x2="47.2" y2="518.94" stroke="#222" stroke-width="1" shape-rendering="crispEdges"/>
<line x1="43.2" y1="493.25" x2="47.2" y2="493.25" stroke="#222" stroke-width="1" shape-rendering="crispEdges"/>
<line x1="43.2" y1="467.56" x2="47.2" y2="467.56" stroke="#222" stroke-width="1" shape-rendering="crispEdges"/>
<line x1="43.2" y1="441.87" x2="47.2" y2="441.87" stroke="#222" stroke-width="1" shape-rendering="crispEdges"/>
<line x1="43.2" y1="416.18" x2="47.2" y2="416.18" stroke="#222" stroke-width="1" shape-rendering="crispEdges"/>
<text x="35.7" y="626.5" font-size="12.5" text-anchor="end" fill="#111" stroke="#111" stroke-width="0.2" >0</text>
<text x="35.7" y="575.12" font-size="12.5" text-anchor="end" fill="#111" stroke="#111" stroke-width="0.2" >0.2</text>
<text x="35.7" y="523.74" font-size="12.5" text-anchor="end" fill="#111" stroke="#111" stroke-width="0.2" >0.4</text>
<text x="35.7" y="472.36" font-size="12.5" text-anchor="end" fill="#111" stroke="#111" stroke-width="0.2" >0.6</text>
<text x="35.7" y="420.98" font-size="12.5" text-anchor="end" fill="#111" stroke="#111" stroke-width="0.2" >0.8</text>
<line x1="47.2" y1="621.7" x2="47.2" y2="625.7" stroke="#333" stroke-width="1" shape-rendering="crispEdges"/>
<line x1="62.71" y1="621.7" x2="62.71" y2="625.7" stroke="#333" stroke-width="1" shape-rendering="crispEdges"/>
<line x1="78.22" y1="621.7" x2="78.22" y2="625.7" stroke="#333" stroke-width="1" shape-rendering="crispEdges"/>
<line x1="93.73" y1="621.7" x2="93.73" y2="625.7" stroke="#333" stroke-width="1" shape-rendering="crispEdges"/>
<line x1="109.24" y1="621.7" x2="109.24" y2="625.7" stroke="#333" stroke-width="1" shape-rendering="crispEdges"/>
<line x1="124.75" y1="621.7" x2="124.75" y2="625.7" stroke="#333" stroke-width="1" shape-rendering="crispEdges"/>
<line x1="140.26" y1="621.7" x2="140.26" y2="625.7" stroke="#333" stroke-width="1" shape-rendering="crispEdges"/>
<line x1="155.77" y1="621.7" x2="155.77" y2="625.7" stroke="#333" stroke-width="1" shape-rendering="crispEdges"/>
<line x1="171.28" y1="621.7" x2="171.28" y2="625.7" stroke="#333" stroke-width="1" shape-rendering="crispEdges"/>
<line x1="186.79" y1="621.7" x2="186.79" y2="625.7" stroke="#333" stroke-width="1" shape-rendering="crispEdges"/>
<line x1="202.3" y1="621.7" x2="202.3" y2="625.7" stroke="#333" stroke-width="1" shape-rendering="crispEdges"/>
<line x1="217.81" y1="621.7" x2="217.81" y2="625.7" stroke="#333" stroke-width="1" shape-rendering="crispEdges"/>
<line x1="233.32" y1="621.7" x2="233.32" y2="625.7" stroke="#333" stroke-width="1" shape-rendering="crispEdges"/>
<text x="47.2" y="641.3" font-size="12.5" text-anchor="middle" fill="#111" stroke="#111" stroke-width="0.2" >0</text>
<text x="78.22" y="641.3" font-size="12.5" text-anchor="middle" fill="#111" stroke="#111" stroke-width="0.2" >1</text>
<text x="109.24" y="641.3" font-size="12.5" text-anchor="middle" fill="#111" stroke="#111" stroke-width="0.2" >2</text>
<text x="140.26" y="641.3" font-size="12.5" text-anchor="middle" fill="#111" stroke="#111" stroke-width="0.2" >3</text>
<text x="171.28" y="641.3" font-size="12.5" text-anchor="middle" fill="#111" stroke="#111" stroke-width="0.2" >4</text>
<text x="202.3" y="641.3" font-size="12.5" text-anchor="middle" fill="#111" stroke="#111" stroke-width="0.2" >5</text>
<text x="233.32" y="641.3" font-size="12.5" text-anchor="middle" fill="#111" stroke="#111" stroke-width="0.2" >6</text>
<g clip-path="url(#cb0m)">
<polyline points="47.2,621.7 62.71,614.51 78.22,612.71 93.73,606.29 109.24,602.69 124.75,592.16 140.26,590.87 155.77,571.6 171.28,563.9 186.79,547.2 202.3,536.92 217.81,524.85 233.32,515.6" fill="none" stroke="#737977" stroke-width="2" stroke-linejoin="round"/>
<circle cx="47.2" cy="621.7" r="3" fill="#737977"/>
<circle cx="62.71" cy="614.51" r="3" fill="#737977"/>
<circle cx="78.22" cy="612.71" r="3" fill="#737977"/>
<circle cx="93.73" cy="606.29" r="3" fill="#737977"/>
<circle cx="109.24" cy="602.69" r="3" fill="#737977"/>
<circle cx="124.75" cy="592.16" r="3" fill="#737977"/>
<circle cx="140.26" cy="590.87" r="3" fill="#737977"/>
<circle cx="155.77" cy="571.6" r="3" fill="#737977"/>
<circle cx="171.28" cy="563.9" r="3" fill="#737977"/>
<circle cx="186.79" cy="547.2" r="3" fill="#737977"/>
<circle cx="202.3" cy="536.92" r="3" fill="#737977"/>
<circle cx="217.81" cy="524.85" r="3" fill="#737977"/>
<circle cx="233.32" cy="515.6" r="3" fill="#737977"/>
<polyline points="47.2,621.7 62.71,613.74 78.22,604.74 93.73,595.24 109.24,586.76 124.75,577.26 140.26,567.24 155.77,547.2 171.28,537.95 186.79,514.83 202.3,497.87 217.81,487.34 233.32,475.01" fill="none" stroke="#151515" stroke-width="2" stroke-linejoin="round"/>
<circle cx="47.2" cy="621.7" r="3" fill="#151515"/>
<circle cx="62.71" cy="613.74" r="3" fill="#151515"/>
<circle cx="78.22" cy="604.74" r="3" fill="#151515"/>
<circle cx="93.73" cy="595.24" r="3" fill="#151515"/>
<circle cx="109.24" cy="586.76" r="3" fill="#151515"/>
<circle cx="124.75" cy="577.26" r="3" fill="#151515"/>
<circle cx="140.26" cy="567.24" r="3" fill="#151515"/>
<circle cx="155.77" cy="547.2" r="3" fill="#151515"/>
<circle cx="171.28" cy="537.95" r="3" fill="#151515"/>
<circle cx="186.79" cy="514.83" r="3" fill="#151515"/>
<circle cx="202.3" cy="497.87" r="3" fill="#151515"/>
<circle cx="217.81" cy="487.34" r="3" fill="#151515"/>
<circle cx="233.32" cy="475.01" r="3" fill="#151515"/>
<polyline points="47.2,621.7 62.71,621.7 78.22,619.13 93.73,619.13 109.24,616.31 124.75,614.76 140.26,614.25 155.77,612.71 171.28,603.2 186.79,599.09 202.3,589.33 217.81,575.71 233.32,565.18" fill="none" stroke="#2f74ee" stroke-width="2" stroke-linejoin="round"/>
<rect x="44.2" y="618.7" width="6" height="6" fill="#2f74ee"/>
<rect x="59.71" y="618.7" width="6" height="6" fill="#2f74ee"/>
<rect x="75.22" y="616.13" width="6" height="6" fill="#2f74ee"/>
<rect x="90.73" y="616.13" width="6" height="6" fill="#2f74ee"/>
<rect x="106.24" y="613.31" width="6" height="6" fill="#2f74ee"/>
<rect x="121.75" y="611.76" width="6" height="6" fill="#2f74ee"/>
<rect x="137.26" y="611.25" width="6" height="6" fill="#2f74ee"/>
<rect x="152.77" y="609.71" width="6" height="6" fill="#2f74ee"/>
<rect x="168.28" y="600.2" width="6" height="6" fill="#2f74ee"/>
<rect x="183.79" y="596.09" width="6" height="6" fill="#2f74ee"/>
<rect x="199.3" y="586.33" width="6" height="6" fill="#2f74ee"/>
<rect x="214.81" y="572.71" width="6" height="6" fill="#2f74ee"/>
<rect x="230.32" y="562.18" width="6" height="6" fill="#2f74ee"/>
<polyline points="47.2,621.7 62.71,621.7 78.22,617.08 93.73,612.71 109.24,601.66 124.75,582.39 140.26,571.09 155.77,541.29 171.28,531.01 186.79,505.84 202.3,487.34 217.81,477.58 233.32,456.51" fill="none" stroke="#1010e6" stroke-width="2" stroke-linejoin="round"/>
<rect x="44.2" y="618.7" width="6" height="6" fill="#1010e6"/>
<rect x="59.71" y="618.7" width="6" height="6" fill="#1010e6"/>
<rect x="75.22" y="614.08" width="6" height="6" fill="#1010e6"/>
<rect x="90.73" y="609.71" width="6" height="6" fill="#1010e6"/>
<rect x="106.24" y="598.66" width="6" height="6" fill="#1010e6"/>
<rect x="121.75" y="579.39" width="6" height="6" fill="#1010e6"/>
<rect x="137.26" y="568.09" width="6" height="6" fill="#1010e6"/>
<rect x="152.77" y="538.29" width="6" height="6" fill="#1010e6"/>
<rect x="168.28" y="528.01" width="6" height="6" fill="#1010e6"/>
<rect x="183.79" y="502.84" width="6" height="6" fill="#1010e6"/>
<rect x="199.3" y="484.34" width="6" height="6" fill="#1010e6"/>
<rect x="214.81" y="474.58" width="6" height="6" fill="#1010e6"/>
<rect x="230.32" y="453.51" width="6" height="6" fill="#1010e6"/>
</g>
<text x="53.4" y="432.8" font-size="12.3" text-anchor="start" fill="#111" stroke="#111" stroke-width="0.2" >0.5 mM</text>
<text x="52.9" y="447.4" font-size="11.7"><tspan fill="#4882dc" stroke="#4882dc" stroke-width="0.2">P=0.032,</tspan> <tspan fill="#2828c0" stroke="#2828c0" stroke-width="0.2">P=0.433</tspan></text>
<line x1="47.2" y1="654.2" x2="236.2" y2="654.2" stroke="#333" stroke-width="1" shape-rendering="crispEdges"/>
<line x1="236.2" y1="654.2" x2="236.2" y2="695.1" stroke="#444" stroke-width="1" shape-rendering="crispEdges"/>
<clipPath id="cb0s"><rect x="43.2" y="654.2" width="197" height="46.9"/></clipPath>
<g clip-path="url(#cb0s)">
<line x1="171.28" y1="692.34" x2="171.28" y2="695.1" stroke="#737977" stroke-width="1" />
<line x1="168.28" y1="692.34" x2="174.28" y2="692.34" stroke="#737977" stroke-width="1" />
<line x1="168.28" y1="695.1" x2="174.28" y2="695.1" stroke="#737977" stroke-width="1" />
<line x1="186.79" y1="692.34" x2="186.79" y2="695.1" stroke="#737977" stroke-width="1" />
<line x1="183.79" y1="692.34" x2="189.79" y2="692.34" stroke="#737977" stroke-width="1" />
<line x1="183.79" y1="695.1" x2="189.79" y2="695.1" stroke="#737977" stroke-width="1" />
<line x1="202.3" y1="691.24" x2="202.3" y2="694.55" stroke="#737977" stroke-width="1" />
<line x1="199.3" y1="691.24" x2="205.3" y2="691.24" stroke="#737977" stroke-width="1" />
<line x1="199.3" y1="694.55" x2="205.3" y2="694.55" stroke="#737977" stroke-width="1" />
<line x1="217.81" y1="690.13" x2="217.81" y2="694.55" stroke="#737977" stroke-width="1" />
<line x1="214.81" y1="690.13" x2="220.81" y2="690.13" stroke="#737977" stroke-width="1" />
<line x1="214.81" y1="694.55" x2="220.81" y2="694.55" stroke="#737977" stroke-width="1" />
<line x1="233.32" y1="684.06" x2="233.32" y2="689.58" stroke="#737977" stroke-width="1" />
<line x1="230.32" y1="684.06" x2="236.32" y2="684.06" stroke="#737977" stroke-width="1" />
<line x1="230.32" y1="689.58" x2="236.32" y2="689.58" stroke="#737977" stroke-width="1" />
<line x1="155.77" y1="691.51" x2="155.77" y2="694.27" stroke="#151515" stroke-width="1" />
<line x1="152.77" y1="691.51" x2="158.77" y2="691.51" stroke="#151515" stroke-width="1" />
<line x1="152.77" y1="694.27" x2="158.77" y2="694.27" stroke="#151515" stroke-width="1" />
<line x1="171.28" y1="687.37" x2="171.28" y2="691.79" stroke="#151515" stroke-width="1" />
<line x1="168.28" y1="687.37" x2="174.28" y2="687.37" stroke="#151515" stroke-width="1" />
<line x1="168.28" y1="691.79" x2="174.28" y2="691.79" stroke="#151515" stroke-width="1" />
<line x1="186.79" y1="687.37" x2="186.79" y2="691.79" stroke="#151515" stroke-width="1" />
<line x1="183.79" y1="687.37" x2="189.79" y2="687.37" stroke="#151515" stroke-width="1" />
<line x1="183.79" y1="691.79" x2="189.79" y2="691.79" stroke="#151515" stroke-width="1" />
<line x1="202.3" y1="687.37" x2="202.3" y2="691.79" stroke="#151515" stroke-width="1" />
<line x1="199.3" y1="687.37" x2="205.3" y2="687.37" stroke="#151515" stroke-width="1" />
<line x1="199.3" y1="691.79" x2="205.3" y2="691.79" stroke="#151515" stroke-width="1" />
<line x1="217.81" y1="684.61" x2="217.81" y2="690.13" stroke="#151515" stroke-width="1" />
<line x1="214.81" y1="684.61" x2="220.81" y2="684.61" stroke="#151515" stroke-width="1" />
<line x1="214.81" y1="690.13" x2="220.81" y2="690.13" stroke="#151515" stroke-width="1" />
<line x1="233.32" y1="677.16" x2="233.32" y2="685.44" stroke="#151515" stroke-width="1" />
<line x1="230.32" y1="677.16" x2="236.32" y2="677.16" stroke="#151515" stroke-width="1" />
<line x1="230.32" y1="685.44" x2="236.32" y2="685.44" stroke="#151515" stroke-width="1" />
<line x1="109.24" y1="691.51" x2="109.24" y2="693.72" stroke="#22228f" stroke-width="1" />
<line x1="106.24" y1="691.51" x2="112.24" y2="691.51" stroke="#22228f" stroke-width="1" />
<line x1="106.24" y1="693.72" x2="112.24" y2="693.72" stroke="#22228f" stroke-width="1" />
<line x1="124.75" y1="686.82" x2="124.75" y2="691.24" stroke="#22228f" stroke-width="1" />
<line x1="121.75" y1="686.82" x2="127.75" y2="686.82" stroke="#22228f" stroke-width="1" />
<line x1="121.75" y1="691.24" x2="127.75" y2="691.24" stroke="#22228f" stroke-width="1" />
<line x1="140.26" y1="687.37" x2="140.26" y2="691.79" stroke="#22228f" stroke-width="1" />
<line x1="137.26" y1="687.37" x2="143.26" y2="687.37" stroke="#22228f" stroke-width="1" />
<line x1="137.26" y1="691.79" x2="143.26" y2="691.79" stroke="#22228f" stroke-width="1" />
<line x1="155.77" y1="684.61" x2="155.77" y2="690.13" stroke="#22228f" stroke-width="1" />
<line x1="152.77" y1="684.61" x2="158.77" y2="684.61" stroke="#22228f" stroke-width="1" />
<line x1="152.77" y1="690.13" x2="158.77" y2="690.13" stroke="#22228f" stroke-width="1" />
<line x1="171.28" y1="681.3" x2="171.28" y2="689.03" stroke="#22228f" stroke-width="1" />
<line x1="168.28" y1="681.3" x2="174.28" y2="681.3" stroke="#22228f" stroke-width="1" />
<line x1="168.28" y1="689.03" x2="174.28" y2="689.03" stroke="#22228f" stroke-width="1" />
<line x1="186.79" y1="679.37" x2="186.79" y2="685.99" stroke="#22228f" stroke-width="1" />
<line x1="183.79" y1="679.37" x2="189.79" y2="679.37" stroke="#22228f" stroke-width="1" />
<line x1="183.79" y1="685.99" x2="189.79" y2="685.99" stroke="#22228f" stroke-width="1" />
<line x1="202.3" y1="677.16" x2="202.3" y2="683.23" stroke="#22228f" stroke-width="1" />
<line x1="199.3" y1="677.16" x2="205.3" y2="677.16" stroke="#22228f" stroke-width="1" />
<line x1="199.3" y1="683.23" x2="205.3" y2="683.23" stroke="#22228f" stroke-width="1" />
<line x1="217.81" y1="671.09" x2="217.81" y2="678.82" stroke="#22228f" stroke-width="1" />
<line x1="214.81" y1="671.09" x2="220.81" y2="671.09" stroke="#22228f" stroke-width="1" />
<line x1="214.81" y1="678.82" x2="220.81" y2="678.82" stroke="#22228f" stroke-width="1" />
<line x1="233.32" y1="669.71" x2="233.32" y2="677.99" stroke="#22228f" stroke-width="1" />
<line x1="230.32" y1="669.71" x2="236.32" y2="669.71" stroke="#22228f" stroke-width="1" />
<line x1="230.32" y1="677.99" x2="236.32" y2="677.99" stroke="#22228f" stroke-width="1" />
</g>
<line x1="47.2" y1="654.2" x2="47.2" y2="695.1" stroke="#222" stroke-width="1" shape-rendering="crispEdges"/>
<line x1="47.2" y1="695.1" x2="236.2" y2="695.1" stroke="#333" stroke-width="1" shape-rendering="crispEdges"/>
<line x1="43.2" y1="695.1" x2="47.2" y2="695.1" stroke="#222" stroke-width="1" shape-rendering="crispEdges"/>
<line x1="43.2" y1="681.3" x2="47.2" y2="681.3" stroke="#222" stroke-width="1" shape-rendering="crispEdges"/>
<line x1="43.2" y1="667.5" x2="47.2" y2="667.5" stroke="#222" stroke-width="1" shape-rendering="crispEdges"/>
<text x="35.7" y="699.7" font-size="12.5" text-anchor="end" fill="#111" stroke="#111" stroke-width="0.2" >0</text>
<text x="35.7" y="672.1" font-size="12.5" text-anchor="end" fill="#111" stroke="#111" stroke-width="0.2" >0.1</text>
<line x1="47.2" y1="695.1" x2="47.2" y2="699.1" stroke="#333" stroke-width="1" shape-rendering="crispEdges"/>
<line x1="62.71" y1="695.1" x2="62.71" y2="699.1" stroke="#333" stroke-width="1" shape-rendering="crispEdges"/>
<line x1="78.22" y1="695.1" x2="78.22" y2="699.1" stroke="#333" stroke-width="1" shape-rendering="crispEdges"/>
<line x1="93.73" y1="695.1" x2="93.73" y2="699.1" stroke="#333" stroke-width="1" shape-rendering="crispEdges"/>
<line x1="109.24" y1="695.1" x2="109.24" y2="699.1" stroke="#333" stroke-width="1" shape-rendering="crispEdges"/>
<line x1="124.75" y1="695.1" x2="124.75" y2="699.1" stroke="#333" stroke-width="1" shape-rendering="crispEdges"/>
<line x1="140.26" y1="695.1" x2="140.26" y2="699.1" stroke="#333" stroke-width="1" shape-rendering="crispEdges"/>
<line x1="155.77" y1="695.1" x2="155.77" y2="699.1" stroke="#333" stroke-width="1" shape-rendering="crispEdges"/>
<line x1="171.28" y1="695.1" x2="171.28" y2="699.1" stroke="#333" stroke-width="1" shape-rendering="crispEdges"/>
<line x1="186.79" y1="695.1" x2="186.79" y2="699.1" stroke="#333" stroke-width="1" shape-rendering="crispEdges"/>
<line x1="202.3" y1="695.1" x2="202.3" y2="699.1" stroke="#333" stroke-width="1" shape-rendering="crispEdges"/>
<line x1="217.81" y1="695.1" x2="217.81" y2="699.1" stroke="#333" stroke-width="1" shape-rendering="crispEdges"/>
<line x1="233.32" y1="695.1" x2="233.32" y2="699.1" stroke="#333" stroke-width="1" shape-rendering="crispEdges"/>
<text x="47.2" y="714.6" font-size="12.5" text-anchor="middle" fill="#111" stroke="#111" stroke-width="0.2" >0</text>
<text x="78.22" y="714.6" font-size="12.5" text-anchor="middle" fill="#111" stroke="#111" stroke-width="0.2" >1</text>
<text x="109.24" y="714.6" font-size="12.5" text-anchor="middle" fill="#111" stroke="#111" stroke-width="0.2" >2</text>
<text x="140.26" y="714.6" font-size="12.5" text-anchor="middle" fill="#111" stroke="#111" stroke-width="0.2" >3</text>
<text x="171.28" y="714.6" font-size="12.5" text-anchor="middle" fill="#111" stroke="#111" stroke-width="0.2" >4</text>
<text x="202.3" y="714.6" font-size="12.5" text-anchor="middle" fill="#111" stroke="#111" stroke-width="0.2" >5</text>
<text x="233.32" y="714.6" font-size="12.5" text-anchor="middle" fill="#111" stroke="#111" stroke-width="0.2" >6</text>
<g clip-path="url(#cb0s)">
<polyline points="47.2,695.1 62.71,695.1 78.22,695.1 93.73,695.1 109.24,695.1 124.75,695.1 140.26,695.1 155.77,695.1 171.28,693.72 186.79,693.72 202.3,692.89 217.81,692.34 233.32,686.82" fill="none" stroke="#737977" stroke-width="2" stroke-linejoin="round"/>
<circle cx="47.2" cy="695.1" r="3" fill="#737977"/>
<circle cx="62.71" cy="695.1" r="3" fill="#737977"/>
<circle cx="78.22" cy="695.1" r="3" fill="#737977"/>
<circle cx="93.73" cy="695.1" r="3" fill="#737977"/>
<circle cx="109.24" cy="695.1" r="3" fill="#737977"/>
<circle cx="124.75" cy="695.1" r="3" fill="#737977"/>
<circle cx="140.26" cy="695.1" r="3" fill="#737977"/>
<circle cx="155.77" cy="695.1" r="3" fill="#737977"/>
<circle cx="171.28" cy="693.72" r="3" fill="#737977"/>
<circle cx="186.79" cy="693.72" r="3" fill="#737977"/>
<circle cx="202.3" cy="692.89" r="3" fill="#737977"/>
<circle cx="217.81" cy="692.34" r="3" fill="#737977"/>
<circle cx="233.32" cy="686.82" r="3" fill="#737977"/>
<polyline points="47.2,695.1 62.71,695.1 78.22,695.1 93.73,695.1 109.24,695.1 124.75,695.1 140.26,693.72 155.77,692.89 171.28,689.58 186.79,689.58 202.3,689.58 217.81,687.37 233.32,681.3" fill="none" stroke="#151515" stroke-width="2" stroke-linejoin="round"/>
<circle cx="47.2" cy="695.1" r="3" fill="#151515"/>
<circle cx="62.71" cy="695.1" r="3" fill="#151515"/>
<circle cx="78.22" cy="695.1" r="3" fill="#151515"/>
<circle cx="93.73" cy="695.1" r="3" fill="#151515"/>
<circle cx="109.24" cy="695.1" r="3" fill="#151515"/>
<circle cx="124.75" cy="695.1" r="3" fill="#151515"/>
<circle cx="140.26" cy="693.72" r="3" fill="#151515"/>
<circle cx="155.77" cy="692.89" r="3" fill="#151515"/>
<circle cx="171.28" cy="689.58" r="3" fill="#151515"/>
<circle cx="186.79" cy="689.58" r="3" fill="#151515"/>
<circle cx="202.3" cy="689.58" r="3" fill="#151515"/>
<circle cx="217.81" cy="687.37" r="3" fill="#151515"/>
<circle cx="233.32" cy="681.3" r="3" fill="#151515"/>
<polyline points="47.2,695.1 62.71,695.1 78.22,695.1 93.73,695.1 109.24,695.1 124.75,695.1 140.26,695.1 155.77,695.1 171.28,695.1 186.79,695.1 202.3,694.27 217.81,693.72 233.32,691.51" fill="none" stroke="#2f74ee" stroke-width="2" stroke-linejoin="round"/>
<rect x="44.2" y="692.1" width="6" height="6" fill="#2f74ee"/>
<rect x="59.71" y="692.1" width="6" height="6" fill="#2f74ee"/>
<rect x="75.22" y="692.1" width="6" height="6" fill="#2f74ee"/>
<rect x="90.73" y="692.1" width="6" height="6" fill="#2f74ee"/>
<rect x="106.24" y="692.1" width="6" height="6" fill="#2f74ee"/>
<rect x="121.75" y="692.1" width="6" height="6" fill="#2f74ee"/>
<rect x="137.26" y="692.1" width="6" height="6" fill="#2f74ee"/>
<rect x="152.77" y="692.1" width="6" height="6" fill="#2f74ee"/>
<rect x="168.28" y="692.1" width="6" height="6" fill="#2f74ee"/>
<rect x="183.79" y="692.1" width="6" height="6" fill="#2f74ee"/>
<rect x="199.3" y="691.27" width="6" height="6" fill="#2f74ee"/>
<rect x="214.81" y="690.72" width="6" height="6" fill="#2f74ee"/>
<rect x="230.32" y="688.51" width="6" height="6" fill="#2f74ee"/>
<polyline points="47.2,695.1 62.71,695.1 78.22,695.1 93.73,695.1 109.24,692.62 124.75,689.03 140.26,689.58 155.77,687.37 171.28,685.16 186.79,682.68 202.3,680.2 217.81,674.95 233.32,673.85" fill="none" stroke="#1010e6" stroke-width="2" stroke-linejoin="round"/>
<rect x="44.2" y="692.1" width="6" height="6" fill="#1010e6"/>
<rect x="59.71" y="692.1" width="6" height="6" fill="#1010e6"/>
<rect x="75.22" y="692.1" width="6" height="6" fill="#1010e6"/>
<rect x="90.73" y="692.1" width="6" height="6" fill="#1010e6"/>
<rect x="106.24" y="689.62" width="6" height="6" fill="#1010e6"/>
<rect x="121.75" y="686.03" width="6" height="6" fill="#1010e6"/>
<rect x="137.26" y="686.58" width="6" height="6" fill="#1010e6"/>
<rect x="152.77" y="684.37" width="6" height="6" fill="#1010e6"/>
<rect x="168.28" y="682.16" width="6" height="6" fill="#1010e6"/>
<rect x="183.79" y="679.68" width="6" height="6" fill="#1010e6"/>
<rect x="199.3" y="677.2" width="6" height="6" fill="#1010e6"/>
<rect x="214.81" y="671.95" width="6" height="6" fill="#1010e6"/>
<rect x="230.32" y="670.85" width="6" height="6" fill="#1010e6"/>
</g>
<text x="52.9" y="667.1" font-size="11.7"><tspan fill="#4882dc" stroke="#4882dc" stroke-width="0.2">P≈1,</tspan> <tspan fill="#2828c0" stroke="#2828c0" stroke-width="0.2">P=0.422</tspan></text>
<line x1="275.4" y1="416.5" x2="464.4" y2="416.5" stroke="#333" stroke-width="1" shape-rendering="crispEdges"/>
<line x1="464.4" y1="416.5" x2="464.4" y2="621.7" stroke="#444" stroke-width="1" shape-rendering="crispEdges"/>
<clipPath id="cb1m"><rect x="271.4" y="416.5" width="197" height="211.2"/></clipPath>
<g clip-path="url(#cb1m)">
<line x1="290.91" y1="611.94" x2="290.91" y2="617.08" stroke="#737977" stroke-width="1" />
<line x1="287.91" y1="611.94" x2="293.91" y2="611.94" stroke="#737977" stroke-width="1" />
<line x1="287.91" y1="617.08" x2="293.91" y2="617.08" stroke="#737977" stroke-width="1" />
<line x1="306.42" y1="608.86" x2="306.42" y2="616.56" stroke="#737977" stroke-width="1" />
<line x1="303.42" y1="608.86" x2="309.42" y2="608.86" stroke="#737977" stroke-width="1" />
<line x1="303.42" y1="616.56" x2="309.42" y2="616.56" stroke="#737977" stroke-width="1" />
<line x1="321.93" y1="598.58" x2="321.93" y2="613.99" stroke="#737977" stroke-width="1" />
<line x1="318.93" y1="598.58" x2="324.93" y2="598.58" stroke="#737977" stroke-width="1" />
<line x1="318.93" y1="613.99" x2="324.93" y2="613.99" stroke="#737977" stroke-width="1" />
<line x1="337.44" y1="592.41" x2="337.44" y2="612.97" stroke="#737977" stroke-width="1" />
<line x1="334.44" y1="592.41" x2="340.44" y2="592.41" stroke="#737977" stroke-width="1" />
<line x1="334.44" y1="612.97" x2="340.44" y2="612.97" stroke="#737977" stroke-width="1" />
<line x1="352.95" y1="579.31" x2="352.95" y2="605" stroke="#737977" stroke-width="1" />
<line x1="349.95" y1="579.31" x2="355.95" y2="579.31" stroke="#737977" stroke-width="1" />
<line x1="349.95" y1="605" x2="355.95" y2="605" stroke="#737977" stroke-width="1" />
<line x1="368.46" y1="575.46" x2="368.46" y2="606.29" stroke="#737977" stroke-width="1" />
<line x1="365.46" y1="575.46" x2="371.46" y2="575.46" stroke="#737977" stroke-width="1" />
<line x1="365.46" y1="606.29" x2="371.46" y2="606.29" stroke="#737977" stroke-width="1" />
<line x1="383.97" y1="553.62" x2="383.97" y2="589.59" stroke="#737977" stroke-width="1" />
<line x1="380.97" y1="553.62" x2="386.97" y2="553.62" stroke="#737977" stroke-width="1" />
<line x1="380.97" y1="589.59" x2="386.97" y2="589.59" stroke="#737977" stroke-width="1" />
<line x1="399.48" y1="543.35" x2="399.48" y2="584.45" stroke="#737977" stroke-width="1" />
<line x1="396.48" y1="543.35" x2="402.48" y2="543.35" stroke="#737977" stroke-width="1" />
<line x1="396.48" y1="584.45" x2="402.48" y2="584.45" stroke="#737977" stroke-width="1" />
<line x1="414.99" y1="524.33" x2="414.99" y2="570.06" stroke="#737977" stroke-width="1" />
<line x1="411.99" y1="524.33" x2="417.99" y2="524.33" stroke="#737977" stroke-width="1" />
<line x1="411.99" y1="570.06" x2="417.99" y2="570.06" stroke="#737977" stroke-width="1" />
<line x1="430.5" y1="509.43" x2="430.5" y2="564.41" stroke="#737977" stroke-width="1" />
<line x1="427.5" y1="509.43" x2="433.5" y2="509.43" stroke="#737977" stroke-width="1" />
<line x1="427.5" y1="564.41" x2="433.5" y2="564.41" stroke="#737977" stroke-width="1" />
<line x1="446.01" y1="496.59" x2="446.01" y2="553.11" stroke="#737977" stroke-width="1" />
<line x1="443.01" y1="496.59" x2="449.01" y2="496.59" stroke="#737977" stroke-width="1" />
<line x1="443.01" y1="553.11" x2="449.01" y2="553.11" stroke="#737977" stroke-width="1" />
<line x1="461.52" y1="484.77" x2="461.52" y2="546.43" stroke="#737977" stroke-width="1" />
<line x1="458.52" y1="484.77" x2="464.52" y2="484.77" stroke="#737977" stroke-width="1" />
<line x1="458.52" y1="546.43" x2="464.52" y2="546.43" stroke="#737977" stroke-width="1" />
<line x1="290.91" y1="610.65" x2="290.91" y2="616.82" stroke="#151515" stroke-width="1" />
<line x1="287.91" y1="610.65" x2="293.91" y2="610.65" stroke="#151515" stroke-width="1" />
<line x1="287.91" y1="616.82" x2="293.91" y2="616.82" stroke="#151515" stroke-width="1" />
<line x1="306.42" y1="597.04" x2="306.42" y2="612.45" stroke="#151515" stroke-width="1" />
<line x1="303.42" y1="597.04" x2="309.42" y2="597.04" stroke="#151515" stroke-width="1" />
<line x1="303.42" y1="612.45" x2="309.42" y2="612.45" stroke="#151515" stroke-width="1" />
<line x1="321.93" y1="583.68" x2="321.93" y2="606.8" stroke="#151515" stroke-width="1" />
<line x1="318.93" y1="583.68" x2="324.93" y2="583.68" stroke="#151515" stroke-width="1" />
<line x1="318.93" y1="606.8" x2="324.93" y2="606.8" stroke="#151515" stroke-width="1" />
<line x1="337.44" y1="573.15" x2="337.44" y2="600.38" stroke="#151515" stroke-width="1" />
<line x1="334.44" y1="573.15" x2="340.44" y2="573.15" stroke="#151515" stroke-width="1" />
<line x1="334.44" y1="600.38" x2="340.44" y2="600.38" stroke="#151515" stroke-width="1" />
<line x1="352.95" y1="558.5" x2="352.95" y2="596.01" stroke="#151515" stroke-width="1" />
<line x1="349.95" y1="558.5" x2="355.95" y2="558.5" stroke="#151515" stroke-width="1" />
<line x1="349.95" y1="596.01" x2="355.95" y2="596.01" stroke="#151515" stroke-width="1" />
<line x1="368.46" y1="546.43" x2="368.46" y2="588.05" stroke="#151515" stroke-width="1" />
<line x1="365.46" y1="546.43" x2="371.46" y2="546.43" stroke="#151515" stroke-width="1" />
<line x1="365.46" y1="588.05" x2="371.46" y2="588.05" stroke="#151515" stroke-width="1" />
<line x1="383.97" y1="526.13" x2="383.97" y2="568.26" stroke="#151515" stroke-width="1" />
<line x1="380.97" y1="526.13" x2="386.97" y2="526.13" stroke="#151515" stroke-width="1" />
<line x1="380.97" y1="568.26" x2="386.97" y2="568.26" stroke="#151515" stroke-width="1" />
<line x1="399.48" y1="512.77" x2="399.48" y2="563.13" stroke="#151515" stroke-width="1" />
<line x1="396.48" y1="512.77" x2="402.48" y2="512.77" stroke="#151515" stroke-width="1" />
<line x1="396.48" y1="563.13" x2="402.48" y2="563.13" stroke="#151515" stroke-width="1" />
<line x1="414.99" y1="487.34" x2="414.99" y2="542.32" stroke="#151515" stroke-width="1" />
<line x1="411.99" y1="487.34" x2="417.99" y2="487.34" stroke="#151515" stroke-width="1" />
<line x1="411.99" y1="542.32" x2="417.99" y2="542.32" stroke="#151515" stroke-width="1" />
<line x1="430.5" y1="470.39" x2="430.5" y2="525.36" stroke="#151515" stroke-width="1" />
<line x1="427.5" y1="470.39" x2="433.5" y2="470.39" stroke="#151515" stroke-width="1" />
<line x1="427.5" y1="525.36" x2="433.5" y2="525.36" stroke="#151515" stroke-width="1" />
<line x1="446.01" y1="460.11" x2="446.01" y2="514.57" stroke="#151515" stroke-width="1" />
<line x1="443.01" y1="460.11" x2="449.01" y2="460.11" stroke="#151515" stroke-width="1" />
<line x1="443.01" y1="514.57" x2="449.01" y2="514.57" stroke="#151515" stroke-width="1" />
<line x1="461.52" y1="450.86" x2="461.52" y2="499.16" stroke="#151515" stroke-width="1" />
<line x1="458.52" y1="450.86" x2="464.52" y2="450.86" stroke="#151515" stroke-width="1" />
<line x1="458.52" y1="499.16" x2="464.52" y2="499.16" stroke="#151515" stroke-width="1" />
<line x1="290.91" y1="619.9" x2="290.91" y2="621.44" stroke="#2f74ee" stroke-width="1" />
<line x1="287.91" y1="619.9" x2="293.91" y2="619.9" stroke="#2f74ee" stroke-width="1" />
<line x1="287.91" y1="621.44" x2="293.91" y2="621.44" stroke="#2f74ee" stroke-width="1" />
<line x1="306.42" y1="619.39" x2="306.42" y2="621.44" stroke="#2f74ee" stroke-width="1" />
<line x1="303.42" y1="619.39" x2="309.42" y2="619.39" stroke="#2f74ee" stroke-width="1" />
<line x1="303.42" y1="621.44" x2="309.42" y2="621.44" stroke="#2f74ee" stroke-width="1" />
<line x1="321.93" y1="619.39" x2="321.93" y2="621.44" stroke="#2f74ee" stroke-width="1" />
<line x1="318.93" y1="619.39" x2="324.93" y2="619.39" stroke="#2f74ee" stroke-width="1" />
<line x1="318.93" y1="621.44" x2="324.93" y2="621.44" stroke="#2f74ee" stroke-width="1" />
<line x1="337.44" y1="619.39" x2="337.44" y2="621.44" stroke="#2f74ee" stroke-width="1" />
<line x1="334.44" y1="619.39" x2="340.44" y2="619.39" stroke="#2f74ee" stroke-width="1" />
<line x1="334.44" y1="621.44" x2="340.44" y2="621.44" stroke="#2f74ee" stroke-width="1" />
<line x1="352.95" y1="612.71" x2="352.95" y2="620.42" stroke="#2f74ee" stroke-width="1" />
<line x1="349.95" y1="612.71" x2="355.95" y2="612.71" stroke="#2f74ee" stroke-width="1" />
<line x1="349.95" y1="620.42" x2="355.95" y2="620.42" stroke="#2f74ee" stroke-width="1" />
<line x1="368.46" y1="610.65" x2="368.46" y2="619.9" stroke="#2f74ee" stroke-width="1" />
<line x1="365.46" y1="610.65" x2="371.46" y2="610.65" stroke="#2f74ee" stroke-width="1" />
<line x1="365.46" y1="619.9" x2="371.46" y2="619.9" stroke="#2f74ee" stroke-width="1" />
<line x1="383.97" y1="608.6" x2="383.97" y2="618.87" stroke="#2f74ee" stroke-width="1" />
<line x1="380.97" y1="608.6" x2="386.97" y2="608.6" stroke="#2f74ee" stroke-width="1" />
<line x1="380.97" y1="618.87" x2="386.97" y2="618.87" stroke="#2f74ee" stroke-width="1" />
<line x1="399.48" y1="574.17" x2="399.48" y2="614.25" stroke="#2f74ee" stroke-width="1" />
<line x1="396.48" y1="574.17" x2="402.48" y2="574.17" stroke="#2f74ee" stroke-width="1" />
<line x1="396.48" y1="614.25" x2="402.48" y2="614.25" stroke="#2f74ee" stroke-width="1" />
<line x1="414.99" y1="569.29" x2="414.99" y2="611.42" stroke="#2f74ee" stroke-width="1" />
<line x1="411.99" y1="569.29" x2="417.99" y2="569.29" stroke="#2f74ee" stroke-width="1" />
<line x1="411.99" y1="611.42" x2="417.99" y2="611.42" stroke="#2f74ee" stroke-width="1" />
<line x1="430.5" y1="551.31" x2="430.5" y2="609.37" stroke="#2f74ee" stroke-width="1" />
<line x1="427.5" y1="551.31" x2="433.5" y2="551.31" stroke="#2f74ee" stroke-width="1" />
<line x1="427.5" y1="609.37" x2="433.5" y2="609.37" stroke="#2f74ee" stroke-width="1" />
<line x1="446.01" y1="537.18" x2="446.01" y2="603.97" stroke="#2f74ee" stroke-width="1" />
<line x1="443.01" y1="537.18" x2="449.01" y2="537.18" stroke="#2f74ee" stroke-width="1" />
<line x1="443.01" y1="603.97" x2="449.01" y2="603.97" stroke="#2f74ee" stroke-width="1" />
<line x1="461.52" y1="533.07" x2="461.52" y2="603.46" stroke="#2f74ee" stroke-width="1" />
<line x1="458.52" y1="533.07" x2="464.52" y2="533.07" stroke="#2f74ee" stroke-width="1" />
<line x1="458.52" y1="603.46" x2="464.52" y2="603.46" stroke="#2f74ee" stroke-width="1" />
<line x1="290.91" y1="613.99" x2="290.91" y2="619.13" stroke="#22228f" stroke-width="1" />
<line x1="287.91" y1="613.99" x2="293.91" y2="613.99" stroke="#22228f" stroke-width="1" />
<line x1="287.91" y1="619.13" x2="293.91" y2="619.13" stroke="#22228f" stroke-width="1" />
<line x1="306.42" y1="613.99" x2="306.42" y2="619.13" stroke="#22228f" stroke-width="1" />
<line x1="303.42" y1="613.99" x2="309.42" y2="613.99" stroke="#22228f" stroke-width="1" />
<line x1="303.42" y1="619.13" x2="309.42" y2="619.13" stroke="#22228f" stroke-width="1" />
<line x1="321.93" y1="603.72" x2="321.93" y2="613.99" stroke="#22228f" stroke-width="1" />
<line x1="318.93" y1="603.72" x2="324.93" y2="603.72" stroke="#22228f" stroke-width="1" />
<line x1="318.93" y1="613.99" x2="324.93" y2="613.99" stroke="#22228f" stroke-width="1" />
<line x1="337.44" y1="596.78" x2="337.44" y2="612.19" stroke="#22228f" stroke-width="1" />
<line x1="334.44" y1="596.78" x2="340.44" y2="596.78" stroke="#22228f" stroke-width="1" />
<line x1="334.44" y1="612.19" x2="340.44" y2="612.19" stroke="#22228f" stroke-width="1" />
<line x1="352.95" y1="593.95" x2="352.95" y2="611.94" stroke="#22228f" stroke-width="1" />
<line x1="349.95" y1="593.95" x2="355.95" y2="593.95" stroke="#22228f" stroke-width="1" />
<line x1="349.95" y1="611.94" x2="355.95" y2="611.94" stroke="#22228f" stroke-width="1" />
<line x1="368.46" y1="581.62" x2="368.46" y2="602.18" stroke="#22228f" stroke-width="1" />
<line x1="365.46" y1="581.62" x2="371.46" y2="581.62" stroke="#22228f" stroke-width="1" />
<line x1="365.46" y1="602.18" x2="371.46" y2="602.18" stroke="#22228f" stroke-width="1" />
<line x1="383.97" y1="564.67" x2="383.97" y2="592.41" stroke="#22228f" stroke-width="1" />
<line x1="380.97" y1="564.67" x2="386.97" y2="564.67" stroke="#22228f" stroke-width="1" />
<line x1="380.97" y1="592.41" x2="386.97" y2="592.41" stroke="#22228f" stroke-width="1" />
<line x1="399.48" y1="552.85" x2="399.48" y2="583.68" stroke="#22228f" stroke-width="1" />
<line x1="396.48" y1="552.85" x2="402.48" y2="552.85" stroke="#22228f" stroke-width="1" />
<line x1="396.48" y1="583.68" x2="402.48" y2="583.68" stroke="#22228f" stroke-width="1" />
<line x1="414.99" y1="528.19" x2="414.99" y2="564.15" stroke="#22228f" stroke-width="1" />
<line x1="411.99" y1="528.19" x2="417.99" y2="528.19" stroke="#22228f" stroke-width="1" />
<line x1="411.99" y1="564.15" x2="417.99" y2="564.15" stroke="#22228f" stroke-width="1" />
<line x1="430.5" y1="502.5" x2="430.5" y2="536.92" stroke="#22228f" stroke-width="1" />
<line x1="427.5" y1="502.5" x2="433.5" y2="502.5" stroke="#22228f" stroke-width="1" />
<line x1="427.5" y1="536.92" x2="433.5" y2="536.92" stroke="#22228f" stroke-width="1" />
<line x1="446.01" y1="492.22" x2="446.01" y2="526.65" stroke="#22228f" stroke-width="1" />
<line x1="443.01" y1="492.22" x2="449.01" y2="492.22" stroke="#22228f" stroke-width="1" />
<line x1="443.01" y1="526.65" x2="449.01" y2="526.65" stroke="#22228f" stroke-width="1" />
<line x1="461.52" y1="473.98" x2="461.52" y2="507.38" stroke="#22228f" stroke-width="1" />
<line x1="458.52" y1="473.98" x2="464.52" y2="473.98" stroke="#22228f" stroke-width="1" />
<line x1="458.52" y1="507.38" x2="464.52" y2="507.38" stroke="#22228f" stroke-width="1" />
</g>
<line x1="275.4" y1="416.5" x2="275.4" y2="621.7" stroke="#222" stroke-width="1" shape-rendering="crispEdges"/>
<line x1="275.4" y1="621.7" x2="464.4" y2="621.7" stroke="#333" stroke-width="1" shape-rendering="crispEdges"/>
<line x1="271.4" y1="621.7" x2="275.4" y2="621.7" stroke="#222" stroke-width="1" shape-rendering="crispEdges"/>
<line x1="271.4" y1="596.01" x2="275.4" y2="596.01" stroke="#222" stroke-width="1" shape-rendering="crispEdges"/>
<line x1="271.4" y1="570.32" x2="275.4" y2="570.32" stroke="#222" stroke-width="1" shape-rendering="crispEdges"/>
<line x1="271.4" y1="544.63" x2="275.4" y2="544.63" stroke="#222" stroke-width="1" shape-rendering="crispEdges"/>
<line x1="271.4" y1="518.94" x2="275.4" y2="518.94" stroke="#222" stroke-width="1" shape-rendering="crispEdges"/>
<line x1="271.4" y1="493.25" x2="275.4" y2="493.25" stroke="#222" stroke-width="1" shape-rendering="crispEdges"/>
<line x1="271.4" y1="467.56" x2="275.4" y2="467.56" stroke="#222" stroke-width="1" shape-rendering="crispEdges"/>
<line x1="271.4" y1="441.87" x2="275.4" y2="441.87" stroke="#222" stroke-width="1" shape-rendering="crispEdges"/>
<line x1="271.4" y1="416.18" x2="275.4" y2="416.18" stroke="#222" stroke-width="1" shape-rendering="crispEdges"/>
<text x="263.9" y="626.5" font-size="12.5" text-anchor="end" fill="#111" stroke="#111" stroke-width="0.2" >0</text>
<text x="263.9" y="575.12" font-size="12.5" text-anchor="end" fill="#111" stroke="#111" stroke-width="0.2" >0.2</text>
<text x="263.9" y="523.74" font-size="12.5" text-anchor="end" fill="#111" stroke="#111" stroke-width="0.2" >0.4</text>
<text x="263.9" y="472.36" font-size="12.5" text-anchor="end" fill="#111" stroke="#111" stroke-width="0.2" >0.6</text>
<text x="263.9" y="420.98" font-size="12.5" text-anchor="end" fill="#111" stroke="#111" stroke-width="0.2" >0.8</text>
<line x1="275.4" y1="621.7" x2="275.4" y2="625.7" stroke="#333" stroke-width="1" shape-rendering="crispEdges"/>
<line x1="290.91" y1="621.7" x2="290.91" y2="625.7" stroke="#333" stroke-width="1" shape-rendering="crispEdges"/>
<line x1="306.42" y1="621.7" x2="306.42" y2="625.7" stroke="#333" stroke-width="1" shape-rendering="crispEdges"/>
<line x1="321.93" y1="621.7" x2="321.93" y2="625.7" stroke="#333" stroke-width="1" shape-rendering="crispEdges"/>
<line x1="337.44" y1="621.7" x2="337.44" y2="625.7" stroke="#333" stroke-width="1" shape-rendering="crispEdges"/>
<line x1="352.95" y1="621.7" x2="352.95" y2="625.7" stroke="#333" stroke-width="1" shape-rendering="crispEdges"/>
<line x1="368.46" y1="621.7" x2="368.46" y2="625.7" stroke="#333" stroke-width="1" shape-rendering="crispEdges"/>
<line x1="383.97" y1="621.7" x2="383.97" y2="625.7" stroke="#333" stroke-width="1" shape-rendering="crispEdges"/>
<line x1="399.48" y1="621.7" x2="399.48" y2="625.7" stroke="#333" stroke-width="1" shape-rendering="crispEdges"/>
<line x1="414.99" y1="621.7" x2="414.99" y2="625.7" stroke="#333" stroke-width="1" shape-rendering="crispEdges"/>
<line x1="430.5" y1="621.7" x2="430.5" y2="625.7" stroke="#333" stroke-width="1" shape-rendering="crispEdges"/>
<line x1="446.01" y1="621.7" x2="446.01" y2="625.7" stroke="#333" stroke-width="1" shape-rendering="crispEdges"/>
<line x1="461.52" y1="621.7" x2="461.52" y2="625.7" stroke="#333" stroke-width="1" shape-rendering="crispEdges"/>
<text x="275.4" y="641.3" font-size="12.5" text-anchor="middle" fill="#111" stroke="#111" stroke-width="0.2" >0</text>
<text x="306.42" y="641.3" font-size="12.5" text-anchor="middle" fill="#111" stroke="#111" stroke-width="0.2" >1</text>
<text x="337.44" y="641.3" font-size="12.5" text-anchor="middle" fill="#111" stroke="#111" stroke-width="0.2" >2</text>
<text x="368.46" y="641.3" font-size="12.5" text-anchor="middle" fill="#111" stroke="#111" stroke-width="0.2" >3</text>
<text x="399.48" y="641.3" font-size="12.5" text-anchor="middle" fill="#111" stroke="#111" stroke-width="0.2" >4</text>
<text x="430.5" y="641.3" font-size="12.5" text-anchor="middle" fill="#111" stroke="#111" stroke-width="0.2" >5</text>
<text x="461.52" y="641.3" font-size="12.5" text-anchor="middle" fill="#111" stroke="#111" stroke-width="0.2" >6</text>
<g clip-path="url(#cb1m)">
<polyline points="275.4,621.7 290.91,614.51 306.42,612.71 321.93,606.29 337.44,602.69 352.95,592.16 368.46,590.87 383.97,571.6 399.48,563.9 414.99,547.2 430.5,536.92 446.01,524.85 461.52,515.6" fill="none" stroke="#737977" stroke-width="2" stroke-linejoin="round"/>
<circle cx="275.4" cy="621.7" r="3" fill="#737977"/>
<circle cx="290.91" cy="614.51" r="3" fill="#737977"/>
<circle cx="306.42" cy="612.71" r="3" fill="#737977"/>
<circle cx="321.93" cy="606.29" r="3" fill="#737977"/>
<circle cx="337.44" cy="602.69" r="3" fill="#737977"/>
<circle cx="352.95" cy="592.16" r="3" fill="#737977"/>
<circle cx="368.46" cy="590.87" r="3" fill="#737977"/>
<circle cx="383.97" cy="571.6" r="3" fill="#737977"/>
<circle cx="399.48" cy="563.9" r="3" fill="#737977"/>
<circle cx="414.99" cy="547.2" r="3" fill="#737977"/>
<circle cx="430.5" cy="536.92" r="3" fill="#737977"/>
<circle cx="446.01" cy="524.85" r="3" fill="#737977"/>
<circle cx="461.52" cy="515.6" r="3" fill="#737977"/>
<polyline points="275.4,621.7 290.91,613.74 306.42,604.74 321.93,595.24 337.44,586.76 352.95,577.26 368.46,567.24 383.97,547.2 399.48,537.95 414.99,514.83 430.5,497.87 446.01,487.34 461.52,475.01" fill="none" stroke="#151515" stroke-width="2" stroke-linejoin="round"/>
<circle cx="275.4" cy="621.7" r="3" fill="#151515"/>
<circle cx="290.91" cy="613.74" r="3" fill="#151515"/>
<circle cx="306.42" cy="604.74" r="3" fill="#151515"/>
<circle cx="321.93" cy="595.24" r="3" fill="#151515"/>
<circle cx="337.44" cy="586.76" r="3" fill="#151515"/>
<circle cx="352.95" cy="577.26" r="3" fill="#151515"/>
<circle cx="368.46" cy="567.24" r="3" fill="#151515"/>
<circle cx="383.97" cy="547.2" r="3" fill="#151515"/>
<circle cx="399.48" cy="537.95" r="3" fill="#151515"/>
<circle cx="414.99" cy="514.83" r="3" fill="#151515"/>
<circle cx="430.5" cy="497.87" r="3" fill="#151515"/>
<circle cx="446.01" cy="487.34" r="3" fill="#151515"/>
<circle cx="461.52" cy="475.01" r="3" fill="#151515"/>
<polyline points="275.4,621.7 290.91,620.67 306.42,620.42 321.93,620.42 337.44,620.42 352.95,616.56 368.46,615.28 383.97,613.74 399.48,594.21 414.99,590.36 430.5,580.34 446.01,570.58 461.52,568.26" fill="none" stroke="#2f74ee" stroke-width="2" stroke-linejoin="round"/>
<rect x="272.4" y="618.7" width="6" height="6" fill="#2f74ee"/>
<rect x="287.91" y="617.67" width="6" height="6" fill="#2f74ee"/>
<rect x="303.42" y="617.42" width="6" height="6" fill="#2f74ee"/>
<rect x="318.93" y="617.42" width="6" height="6" fill="#2f74ee"/>
<rect x="334.44" y="617.42" width="6" height="6" fill="#2f74ee"/>
<rect x="349.95" y="613.56" width="6" height="6" fill="#2f74ee"/>
<rect x="365.46" y="612.28" width="6" height="6" fill="#2f74ee"/>
<rect x="380.97" y="610.74" width="6" height="6" fill="#2f74ee"/>
<rect x="396.48" y="591.21" width="6" height="6" fill="#2f74ee"/>
<rect x="411.99" y="587.36" width="6" height="6" fill="#2f74ee"/>
<rect x="427.5" y="577.34" width="6" height="6" fill="#2f74ee"/>
<rect x="443.01" y="567.58" width="6" height="6" fill="#2f74ee"/>
<rect x="458.52" y="565.26" width="6" height="6" fill="#2f74ee"/>
<polyline points="275.4,621.7 290.91,616.56 306.42,616.56 321.93,608.86 337.44,604.49 352.95,602.95 368.46,591.9 383.97,578.54 399.48,568.26 414.99,546.17 430.5,519.71 446.01,509.43 461.52,490.68" fill="none" stroke="#1010e6" stroke-width="2" stroke-linejoin="round"/>
<rect x="272.4" y="618.7" width="6" height="6" fill="#1010e6"/>
<rect x="287.91" y="613.56" width="6" height="6" fill="#1010e6"/>
<rect x="303.42" y="613.56" width="6" height="6" fill="#1010e6"/>
<rect x="318.93" y="605.86" width="6" height="6" fill="#1010e6"/>
<rect x="334.44" y="601.49" width="6" height="6" fill="#1010e6"/>
<rect x="349.95" y="599.95" width="6" height="6" fill="#1010e6"/>
<rect x="365.46" y="588.9" width="6" height="6" fill="#1010e6"/>
<rect x="380.97" y="575.54" width="6" height="6" fill="#1010e6"/>
<rect x="396.48" y="565.26" width="6" height="6" fill="#1010e6"/>
<rect x="411.99" y="543.17" width="6" height="6" fill="#1010e6"/>
<rect x="427.5" y="516.71" width="6" height="6" fill="#1010e6"/>
<rect x="443.01" y="506.43" width="6" height="6" fill="#1010e6"/>
<rect x="458.52" y="487.68" width="6" height="6" fill="#1010e6"/>
</g>
<text x="281.6" y="432.8" font-size="12.3" text-anchor="start" fill="#111" stroke="#111" stroke-width="0.2" >0.75 mM</text>
<text x="281.1" y="447.4" font-size="11.7"><tspan fill="#4882dc" stroke="#4882dc" stroke-width="0.2">P=0.001,</tspan> <tspan fill="#2828c0" stroke="#2828c0" stroke-width="0.2">P=0.939</tspan></text>
<line x1="275.4" y1="654.2" x2="464.4" y2="654.2" stroke="#333" stroke-width="1" shape-rendering="crispEdges"/>
<line x1="464.4" y1="654.2" x2="464.4" y2="695.5" stroke="#444" stroke-width="1" shape-rendering="crispEdges"/>
<clipPath id="cb1s"><rect x="271.4" y="654.2" width="197" height="47.3"/></clipPath>
<g clip-path="url(#cb1s)">
<line x1="399.48" y1="692.7" x2="399.48" y2="695.5" stroke="#737977" stroke-width="1" />
<line x1="396.48" y1="692.7" x2="402.48" y2="692.7" stroke="#737977" stroke-width="1" />
<line x1="396.48" y1="695.5" x2="402.48" y2="695.5" stroke="#737977" stroke-width="1" />
<line x1="414.99" y1="692.7" x2="414.99" y2="695.5" stroke="#737977" stroke-width="1" />
<line x1="411.99" y1="692.7" x2="417.99" y2="692.7" stroke="#737977" stroke-width="1" />
<line x1="411.99" y1="695.5" x2="417.99" y2="695.5" stroke="#737977" stroke-width="1" />
<line x1="430.5" y1="691.58" x2="430.5" y2="694.94" stroke="#737977" stroke-width="1" />
<line x1="427.5" y1="691.58" x2="433.5" y2="691.58" stroke="#737977" stroke-width="1" />
<line x1="427.5" y1="694.94" x2="433.5" y2="694.94" stroke="#737977" stroke-width="1" />
<line x1="446.01" y1="690.46" x2="446.01" y2="694.94" stroke="#737977" stroke-width="1" />
<line x1="443.01" y1="690.46" x2="449.01" y2="690.46" stroke="#737977" stroke-width="1" />
<line x1="443.01" y1="694.94" x2="449.01" y2="694.94" stroke="#737977" stroke-width="1" />
<line x1="461.52" y1="684.3" x2="461.52" y2="689.9" stroke="#737977" stroke-width="1" />
<line x1="458.52" y1="684.3" x2="464.52" y2="684.3" stroke="#737977" stroke-width="1" />
<line x1="458.52" y1="689.9" x2="464.52" y2="689.9" stroke="#737977" stroke-width="1" />
<line x1="383.97" y1="691.86" x2="383.97" y2="694.66" stroke="#151515" stroke-width="1" />
<line x1="380.97" y1="691.86" x2="386.97" y2="691.86" stroke="#151515" stroke-width="1" />
<line x1="380.97" y1="694.66" x2="386.97" y2="694.66" stroke="#151515" stroke-width="1" />
<line x1="399.48" y1="687.66" x2="399.48" y2="692.14" stroke="#151515" stroke-width="1" />
<line x1="396.48" y1="687.66" x2="402.48" y2="687.66" stroke="#151515" stroke-width="1" />
<line x1="396.48" y1="692.14" x2="402.48" y2="692.14" stroke="#151515" stroke-width="1" />
<line x1="414.99" y1="687.66" x2="414.99" y2="692.14" stroke="#151515" stroke-width="1" />
<line x1="411.99" y1="687.66" x2="417.99" y2="687.66" stroke="#151515" stroke-width="1" />
<line x1="411.99" y1="692.14" x2="417.99" y2="692.14" stroke="#151515" stroke-width="1" />
<line x1="430.5" y1="687.66" x2="430.5" y2="692.14" stroke="#151515" stroke-width="1" />
<line x1="427.5" y1="687.66" x2="433.5" y2="687.66" stroke="#151515" stroke-width="1" />
<line x1="427.5" y1="692.14" x2="433.5" y2="692.14" stroke="#151515" stroke-width="1" />
<line x1="446.01" y1="684.86" x2="446.01" y2="690.46" stroke="#151515" stroke-width="1" />
<line x1="443.01" y1="684.86" x2="449.01" y2="684.86" stroke="#151515" stroke-width="1" />
<line x1="443.01" y1="690.46" x2="449.01" y2="690.46" stroke="#151515" stroke-width="1" />
<line x1="461.52" y1="677.3" x2="461.52" y2="685.7" stroke="#151515" stroke-width="1" />
<line x1="458.52" y1="677.3" x2="464.52" y2="677.3" stroke="#151515" stroke-width="1" />
<line x1="458.52" y1="685.7" x2="464.52" y2="685.7" stroke="#151515" stroke-width="1" />
<line x1="368.46" y1="685.7" x2="368.46" y2="695.22" stroke="#22228f" stroke-width="1" />
<line x1="365.46" y1="685.7" x2="371.46" y2="685.7" stroke="#22228f" stroke-width="1" />
<line x1="365.46" y1="695.22" x2="371.46" y2="695.22" stroke="#22228f" stroke-width="1" />
<line x1="383.97" y1="686.26" x2="383.97" y2="694.66" stroke="#22228f" stroke-width="1" />
<line x1="380.97" y1="686.26" x2="386.97" y2="686.26" stroke="#22228f" stroke-width="1" />
<line x1="380.97" y1="694.66" x2="386.97" y2="694.66" stroke="#22228f" stroke-width="1" />
<line x1="399.48" y1="686.54" x2="399.48" y2="693.26" stroke="#22228f" stroke-width="1" />
<line x1="396.48" y1="686.54" x2="402.48" y2="686.54" stroke="#22228f" stroke-width="1" />
<line x1="396.48" y1="693.26" x2="402.48" y2="693.26" stroke="#22228f" stroke-width="1" />
<line x1="414.99" y1="681.22" x2="414.99" y2="690.74" stroke="#22228f" stroke-width="1" />
<line x1="411.99" y1="681.22" x2="417.99" y2="681.22" stroke="#22228f" stroke-width="1" />
<line x1="411.99" y1="690.74" x2="417.99" y2="690.74" stroke="#22228f" stroke-width="1" />
<line x1="430.5" y1="681.22" x2="430.5" y2="690.74" stroke="#22228f" stroke-width="1" />
<line x1="427.5" y1="681.22" x2="433.5" y2="681.22" stroke="#22228f" stroke-width="1" />
<line x1="427.5" y1="690.74" x2="433.5" y2="690.74" stroke="#22228f" stroke-width="1" />
<line x1="446.01" y1="681.22" x2="446.01" y2="690.74" stroke="#22228f" stroke-width="1" />
<line x1="443.01" y1="681.22" x2="449.01" y2="681.22" stroke="#22228f" stroke-width="1" />
<line x1="443.01" y1="690.74" x2="449.01" y2="690.74" stroke="#22228f" stroke-width="1" />
<line x1="461.52" y1="670.86" x2="461.52" y2="684.86" stroke="#22228f" stroke-width="1" />
<line x1="458.52" y1="670.86" x2="464.52" y2="670.86" stroke="#22228f" stroke-width="1" />
<line x1="458.52" y1="684.86" x2="464.52" y2="684.86" stroke="#22228f" stroke-width="1" />
</g>
<line x1="275.4" y1="654.2" x2="275.4" y2="695.5" stroke="#222" stroke-width="1" shape-rendering="crispEdges"/>
<line x1="275.4" y1="695.5" x2="464.4" y2="695.5" stroke="#333" stroke-width="1" shape-rendering="crispEdges"/>
<line x1="271.4" y1="695.5" x2="275.4" y2="695.5" stroke="#222" stroke-width="1" shape-rendering="crispEdges"/>
<line x1="271.4" y1="681.5" x2="275.4" y2="681.5" stroke="#222" stroke-width="1" shape-rendering="crispEdges"/>
<line x1="271.4" y1="667.5" x2="275.4" y2="667.5" stroke="#222" stroke-width="1" shape-rendering="crispEdges"/>
<text x="263.9" y="700.1" font-size="12.5" text-anchor="end" fill="#111" stroke="#111" stroke-width="0.2" >0</text>
<text x="263.9" y="672.1" font-size="12.5" text-anchor="end" fill="#111" stroke="#111" stroke-width="0.2" >0.1</text>
<line x1="275.4" y1="695.5" x2="275.4" y2="699.5" stroke="#333" stroke-width="1" shape-rendering="crispEdges"/>
<line x1="290.91" y1="695.5" x2="290.91" y2="699.5" stroke="#333" stroke-width="1" shape-rendering="crispEdges"/>
<line x1="306.42" y1="695.5" x2="306.42" y2="699.5" stroke="#333" stroke-width="1" shape-rendering="crispEdges"/>
<line x1="321.93" y1="695.5" x2="321.93" y2="699.5" stroke="#333" stroke-width="1" shape-rendering="crispEdges"/>
<line x1="337.44" y1="695.5" x2="337.44" y2="699.5" stroke="#333" stroke-width="1" shape-rendering="crispEdges"/>
<line x1="352.95" y1="695.5" x2="352.95" y2="699.5" stroke="#333" stroke-width="1" shape-rendering="crispEdges"/>
<line x1="368.46" y1="695.5" x2="368.46" y2="699.5" stroke="#333" stroke-width="1" shape-rendering="crispEdges"/>
<line x1="383.97" y1="695.5" x2="383.97" y2="699.5" stroke="#333" stroke-width="1" shape-rendering="crispEdges"/>
<line x1="399.48" y1="695.5" x2="399.48" y2="699.5" stroke="#333" stroke-width="1" shape-rendering="crispEdges"/>
<line x1="414.99" y1="695.5" x2="414.99" y2="699.5" stroke="#333" stroke-width="1" shape-rendering="crispEdges"/>
<line x1="430.5" y1="695.5" x2="430.5" y2="699.5" stroke="#333" stroke-width="1" shape-rendering="crispEdges"/>
<line x1="446.01" y1="695.5" x2="446.01" y2="699.5" stroke="#333" stroke-width="1" shape-rendering="crispEdges"/>
<line x1="461.52" y1="695.5" x2="461.52" y2="699.5" stroke="#333" stroke-width="1" shape-rendering="crispEdges"/>
<text x="275.4" y="714.6" font-size="12.5" text-anchor="middle" fill="#111" stroke="#111" stroke-width="0.2" >0</text>
<text x="306.42" y="714.6" font-size="12.5" text-anchor="middle" fill="#111" stroke="#111" stroke-width="0.2" >1</text>
<text x="337.44" y="714.6" font-size="12.5" text-anchor="middle" fill="#111" stroke="#111" stroke-width="0.2" >2</text>
<text x="368.46" y="714.6" font-size="12.5" text-anchor="middle" fill="#111" stroke="#111" stroke-width="0.2" >3</text>
<text x="399.48" y="714.6" font-size="12.5" text-anchor="middle" fill="#111" stroke="#111" stroke-width="0.2" >4</text>
<text x="430.5" y="714.6" font-size="12.5" text-anchor="middle" fill="#111" stroke="#111" stroke-width="0.2" >5</text>
<text x="461.52" y="714.6" font-size="12.5" text-anchor="middle" fill="#111" stroke="#111" stroke-width="0.2" >6</text>
<g clip-path="url(#cb1s)">
<polyline points="275.4,695.5 290.91,695.5 306.42,695.5 321.93,695.5 337.44,695.5 352.95,695.5 368.46,695.5 383.97,695.5 399.48,694.1 414.99,694.1 430.5,693.26 446.01,692.7 461.52,687.1" fill="none" stroke="#737977" stroke-width="2" stroke-linejoin="round"/>
<circle cx="275.4" cy="695.5" r="3" fill="#737977"/>
<circle cx="290.91" cy="695.5" r="3" fill="#737977"/>
<circle cx="306.42" cy="695.5" r="3" fill="#737977"/>
<circle cx="321.93" cy="695.5" r="3" fill="#737977"/>
<circle cx="337.44" cy="695.5" r="3" fill="#737977"/>
<circle cx="352.95" cy="695.5" r="3" fill="#737977"/>
<circle cx="368.46" cy="695.5" r="3" fill="#737977"/>
<circle cx="383.97" cy="695.5" r="3" fill="#737977"/>
<circle cx="399.48" cy="694.1" r="3" fill="#737977"/>
<circle cx="414.99" cy="694.1" r="3" fill="#737977"/>
<circle cx="430.5" cy="693.26" r="3" fill="#737977"/>
<circle cx="446.01" cy="692.7" r="3" fill="#737977"/>
<circle cx="461.52" cy="687.1" r="3" fill="#737977"/>
<polyline points="275.4,695.5 290.91,695.5 306.42,695.5 321.93,695.5 337.44,695.5 352.95,695.5 368.46,694.1 383.97,693.26 399.48,689.9 414.99,689.9 430.5,689.9 446.01,687.66 461.52,681.5" fill="none" stroke="#151515" stroke-width="2" stroke-linejoin="round"/>
<circle cx="275.4" cy="695.5" r="3" fill="#151515"/>
<circle cx="290.91" cy="695.5" r="3" fill="#151515"/>
<circle cx="306.42" cy="695.5" r="3" fill="#151515"/>
<circle cx="321.93" cy="695.5" r="3" fill="#151515"/>
<circle cx="337.44" cy="695.5" r="3" fill="#151515"/>
<circle cx="352.95" cy="695.5" r="3" fill="#151515"/>
<circle cx="368.46" cy="694.1" r="3" fill="#151515"/>
<circle cx="383.97" cy="693.26" r="3" fill="#151515"/>
<circle cx="399.48" cy="689.9" r="3" fill="#151515"/>
<circle cx="414.99" cy="689.9" r="3" fill="#151515"/>
<circle cx="430.5" cy="689.9" r="3" fill="#151515"/>
<circle cx="446.01" cy="687.66" r="3" fill="#151515"/>
<circle cx="461.52" cy="681.5" r="3" fill="#151515"/>
<polyline points="275.4,695.5 290.91,695.5 306.42,695.5 321.93,695.5 337.44,695.5 352.95,695.5 368.46,695.5 383.97,695.5 399.48,695.5 414.99,695.5 430.5,695.5 446.01,694.94 461.52,692.7" fill="none" stroke="#2f74ee" stroke-width="2" stroke-linejoin="round"/>
<rect x="272.4" y="692.5" width="6" height="6" fill="#2f74ee"/>
<rect x="287.91" y="692.5" width="6" height="6" fill="#2f74ee"/>
<rect x="303.42" y="692.5" width="6" height="6" fill="#2f74ee"/>
<rect x="318.93" y="692.5" width="6" height="6" fill="#2f74ee"/>
<rect x="334.44" y="692.5" width="6" height="6" fill="#2f74ee"/>
<rect x="349.95" y="692.5" width="6" height="6" fill="#2f74ee"/>
<rect x="365.46" y="692.5" width="6" height="6" fill="#2f74ee"/>
<rect x="380.97" y="692.5" width="6" height="6" fill="#2f74ee"/>
<rect x="396.48" y="692.5" width="6" height="6" fill="#2f74ee"/>
<rect x="411.99" y="692.5" width="6" height="6" fill="#2f74ee"/>
<rect x="427.5" y="692.5" width="6" height="6" fill="#2f74ee"/>
<rect x="443.01" y="691.94" width="6" height="6" fill="#2f74ee"/>
<rect x="458.52" y="689.7" width="6" height="6" fill="#2f74ee"/>
<polyline points="275.4,695.5 290.91,695.5 306.42,695.5 321.93,695.5 337.44,695.5 352.95,695.5 368.46,690.46 383.97,690.46 399.48,689.9 414.99,685.98 430.5,685.98 446.01,685.98 461.52,677.86" fill="none" stroke="#1010e6" stroke-width="2" stroke-linejoin="round"/>
<rect x="272.4" y="692.5" width="6" height="6" fill="#1010e6"/>
<rect x="287.91" y="692.5" width="6" height="6" fill="#1010e6"/>
<rect x="303.42" y="692.5" width="6" height="6" fill="#1010e6"/>
<rect x="318.93" y="692.5" width="6" height="6" fill="#1010e6"/>
<rect x="334.44" y="692.5" width="6" height="6" fill="#1010e6"/>
<rect x="349.95" y="692.5" width="6" height="6" fill="#1010e6"/>
<rect x="365.46" y="687.46" width="6" height="6" fill="#1010e6"/>
<rect x="380.97" y="687.46" width="6" height="6" fill="#1010e6"/>
<rect x="396.48" y="686.9" width="6" height="6" fill="#1010e6"/>
<rect x="411.99" y="682.98" width="6" height="6" fill="#1010e6"/>
<rect x="427.5" y="682.98" width="6" height="6" fill="#1010e6"/>
<rect x="443.01" y="682.98" width="6" height="6" fill="#1010e6"/>
<rect x="458.52" y="674.86" width="6" height="6" fill="#1010e6"/>
</g>
<text x="281.1" y="667.1" font-size="11.7"><tspan fill="#4882dc" stroke="#4882dc" stroke-width="0.2">P=0.994,</tspan> <tspan fill="#2828c0" stroke="#2828c0" stroke-width="0.2">P=0.827</tspan></text>
<line x1="504.3" y1="416.5" x2="693.3" y2="416.5" stroke="#333" stroke-width="1" shape-rendering="crispEdges"/>
<line x1="693.3" y1="416.5" x2="693.3" y2="621.7" stroke="#444" stroke-width="1" shape-rendering="crispEdges"/>
<clipPath id="cb2m"><rect x="500.3" y="416.5" width="197" height="211.2"/></clipPath>
<g clip-path="url(#cb2m)">
<line x1="519.81" y1="611.94" x2="519.81" y2="617.08" stroke="#737977" stroke-width="1" />
<line x1="516.81" y1="611.94" x2="522.81" y2="611.94" stroke="#737977" stroke-width="1" />
<line x1="516.81" y1="617.08" x2="522.81" y2="617.08" stroke="#737977" stroke-width="1" />
<line x1="535.32" y1="608.86" x2="535.32" y2="616.56" stroke="#737977" stroke-width="1" />
<line x1="532.32" y1="608.86" x2="538.32" y2="608.86" stroke="#737977" stroke-width="1" />
<line x1="532.32" y1="616.56" x2="538.32" y2="616.56" stroke="#737977" stroke-width="1" />
<line x1="550.83" y1="598.58" x2="550.83" y2="613.99" stroke="#737977" stroke-width="1" />
<line x1="547.83" y1="598.58" x2="553.83" y2="598.58" stroke="#737977" stroke-width="1" />
<line x1="547.83" y1="613.99" x2="553.83" y2="613.99" stroke="#737977" stroke-width="1" />
<line x1="566.34" y1="592.41" x2="566.34" y2="612.97" stroke="#737977" stroke-width="1" />
<line x1="563.34" y1="592.41" x2="569.34" y2="592.41" stroke="#737977" stroke-width="1" />
<line x1="563.34" y1="612.97" x2="569.34" y2="612.97" stroke="#737977" stroke-width="1" />
<line x1="581.85" y1="579.31" x2="581.85" y2="605" stroke="#737977" stroke-width="1" />
<line x1="578.85" y1="579.31" x2="584.85" y2="579.31" stroke="#737977" stroke-width="1" />
<line x1="578.85" y1="605" x2="584.85" y2="605" stroke="#737977" stroke-width="1" />
<line x1="597.36" y1="575.46" x2="597.36" y2="606.29" stroke="#737977" stroke-width="1" />
<line x1="594.36" y1="575.46" x2="600.36" y2="575.46" stroke="#737977" stroke-width="1" />
<line x1="594.36" y1="606.29" x2="600.36" y2="606.29" stroke="#737977" stroke-width="1" />
<line x1="612.87" y1="553.62" x2="612.87" y2="589.59" stroke="#737977" stroke-width="1" />
<line x1="609.87" y1="553.62" x2="615.87" y2="553.62" stroke="#737977" stroke-width="1" />
<line x1="609.87" y1="589.59" x2="615.87" y2="589.59" stroke="#737977" stroke-width="1" />
<line x1="628.38" y1="543.35" x2="628.38" y2="584.45" stroke="#737977" stroke-width="1" />
<line x1="625.38" y1="543.35" x2="631.38" y2="543.35" stroke="#737977" stroke-width="1" />
<line x1="625.38" y1="584.45" x2="631.38" y2="584.45" stroke="#737977" stroke-width="1" />
<line x1="643.89" y1="524.33" x2="643.89" y2="570.06" stroke="#737977" stroke-width="1" />
<line x1="640.89" y1="524.33" x2="646.89" y2="524.33" stroke="#737977" stroke-width="1" />
<line x1="640.89" y1="570.06" x2="646.89" y2="570.06" stroke="#737977" stroke-width="1" />
<line x1="659.4" y1="509.43" x2="659.4" y2="564.41" stroke="#737977" stroke-width="1" />
<line x1="656.4" y1="509.43" x2="662.4" y2="509.43" stroke="#737977" stroke-width="1" />
<line x1="656.4" y1="564.41" x2="662.4" y2="564.41" stroke="#737977" stroke-width="1" />
<line x1="674.91" y1="496.59" x2="674.91" y2="553.11" stroke="#737977" stroke-width="1" />
<line x1="671.91" y1="496.59" x2="677.91" y2="496.59" stroke="#737977" stroke-width="1" />
<line x1="671.91" y1="553.11" x2="677.91" y2="553.11" stroke="#737977" stroke-width="1" />
<line x1="690.42" y1="484.77" x2="690.42" y2="546.43" stroke="#737977" stroke-width="1" />
<line x1="687.42" y1="484.77" x2="693.42" y2="484.77" stroke="#737977" stroke-width="1" />
<line x1="687.42" y1="546.43" x2="693.42" y2="546.43" stroke="#737977" stroke-width="1" />
<line x1="519.81" y1="610.65" x2="519.81" y2="616.82" stroke="#151515" stroke-width="1" />
<line x1="516.81" y1="610.65" x2="522.81" y2="610.65" stroke="#151515" stroke-width="1" />
<line x1="516.81" y1="616.82" x2="522.81" y2="616.82" stroke="#151515" stroke-width="1" />
<line x1="535.32" y1="597.04" x2="535.32" y2="612.45" stroke="#151515" stroke-width="1" />
<line x1="532.32" y1="597.04" x2="538.32" y2="597.04" stroke="#151515" stroke-width="1" />
<line x1="532.32" y1="612.45" x2="538.32" y2="612.45" stroke="#151515" stroke-width="1" />
<line x1="550.83" y1="583.68" x2="550.83" y2="606.8" stroke="#151515" stroke-width="1" />
<line x1="547.83" y1="583.68" x2="553.83" y2="583.68" stroke="#151515" stroke-width="1" />
<line x1="547.83" y1="606.8" x2="553.83" y2="606.8" stroke="#151515" stroke-width="1" />
<line x1="566.34" y1="573.15" x2="566.34" y2="600.38" stroke="#151515" stroke-width="1" />
<line x1="563.34" y1="573.15" x2="569.34" y2="573.15" stroke="#151515" stroke-width="1" />
<line x1="563.34" y1="600.38" x2="569.34" y2="600.38" stroke="#151515" stroke-width="1" />
<line x1="581.85" y1="558.5" x2="581.85" y2="596.01" stroke="#151515" stroke-width="1" />
<line x1="578.85" y1="558.5" x2="584.85" y2="558.5" stroke="#151515" stroke-width="1" />
<line x1="578.85" y1="596.01" x2="584.85" y2="596.01" stroke="#151515" stroke-width="1" />
<line x1="597.36" y1="546.43" x2="597.36" y2="588.05" stroke="#151515" stroke-width="1" />
<line x1="594.36" y1="546.43" x2="600.36" y2="546.43" stroke="#151515" stroke-width="1" />
<line x1="594.36" y1="588.05" x2="600.36" y2="588.05" stroke="#151515" stroke-width="1" />
<line x1="612.87" y1="526.13" x2="612.87" y2="568.26" stroke="#151515" stroke-width="1" />
<line x1="609.87" y1="526.13" x2="615.87" y2="526.13" stroke="#151515" stroke-width="1" />
<line x1="609.87" y1="568.26" x2="615.87" y2="568.26" stroke="#151515" stroke-width="1" />
<line x1="628.38" y1="512.77" x2="628.38" y2="563.13" stroke="#151515" stroke-width="1" />
<line x1="625.38" y1="512.77" x2="631.38" y2="512.77" stroke="#151515" stroke-width="1" />
<line x1="625.38" y1="563.13" x2="631.38" y2="563.13" stroke="#151515" stroke-width="1" />
<line x1="643.89" y1="487.34" x2="643.89" y2="542.32" stroke="#151515" stroke-width="1" />
<line x1="640.89" y1="487.34" x2="646.89" y2="487.34" stroke="#151515" stroke-width="1" />
<line x1="640.89" y1="542.32" x2="646.89" y2="542.32" stroke="#151515" stroke-width="1" />
<line x1="659.4" y1="470.39" x2="659.4" y2="525.36" stroke="#151515" stroke-width="1" />
<line x1="656.4" y1="470.39" x2="662.4" y2="470.39" stroke="#151515" stroke-width="1" />
<line x1="656.4" y1="525.36" x2="662.4" y2="525.36" stroke="#151515" stroke-width="1" />
<line x1="674.91" y1="460.11" x2="674.91" y2="514.57" stroke="#151515" stroke-width="1" />
<line x1="671.91" y1="460.11" x2="677.91" y2="460.11" stroke="#151515" stroke-width="1" />
<line x1="671.91" y1="514.57" x2="677.91" y2="514.57" stroke="#151515" stroke-width="1" />
<line x1="690.42" y1="450.86" x2="690.42" y2="499.16" stroke="#151515" stroke-width="1" />
<line x1="687.42" y1="450.86" x2="693.42" y2="450.86" stroke="#151515" stroke-width="1" />
<line x1="687.42" y1="499.16" x2="693.42" y2="499.16" stroke="#151515" stroke-width="1" />
<line x1="519.81" y1="613.99" x2="519.81" y2="619.13" stroke="#2f74ee" stroke-width="1" />
<line x1="516.81" y1="613.99" x2="522.81" y2="613.99" stroke="#2f74ee" stroke-width="1" />
<line x1="516.81" y1="619.13" x2="522.81" y2="619.13" stroke="#2f74ee" stroke-width="1" />
<line x1="535.32" y1="606.29" x2="535.32" y2="613.99" stroke="#2f74ee" stroke-width="1" />
<line x1="532.32" y1="606.29" x2="538.32" y2="606.29" stroke="#2f74ee" stroke-width="1" />
<line x1="532.32" y1="613.99" x2="538.32" y2="613.99" stroke="#2f74ee" stroke-width="1" />
<line x1="550.83" y1="601.15" x2="550.83" y2="611.42" stroke="#2f74ee" stroke-width="1" />
<line x1="547.83" y1="601.15" x2="553.83" y2="601.15" stroke="#2f74ee" stroke-width="1" />
<line x1="547.83" y1="611.42" x2="553.83" y2="611.42" stroke="#2f74ee" stroke-width="1" />
<line x1="566.34" y1="596.78" x2="566.34" y2="609.63" stroke="#2f74ee" stroke-width="1" />
<line x1="563.34" y1="596.78" x2="569.34" y2="596.78" stroke="#2f74ee" stroke-width="1" />
<line x1="563.34" y1="609.63" x2="569.34" y2="609.63" stroke="#2f74ee" stroke-width="1" />
<line x1="581.85" y1="593.44" x2="581.85" y2="608.86" stroke="#2f74ee" stroke-width="1" />
<line x1="578.85" y1="593.44" x2="584.85" y2="593.44" stroke="#2f74ee" stroke-width="1" />
<line x1="578.85" y1="608.86" x2="584.85" y2="608.86" stroke="#2f74ee" stroke-width="1" />
<line x1="597.36" y1="584.71" x2="597.36" y2="605.26" stroke="#2f74ee" stroke-width="1" />
<line x1="594.36" y1="584.71" x2="600.36" y2="584.71" stroke="#2f74ee" stroke-width="1" />
<line x1="594.36" y1="605.26" x2="600.36" y2="605.26" stroke="#2f74ee" stroke-width="1" />
<line x1="612.87" y1="580.85" x2="612.87" y2="603.97" stroke="#2f74ee" stroke-width="1" />
<line x1="609.87" y1="580.85" x2="615.87" y2="580.85" stroke="#2f74ee" stroke-width="1" />
<line x1="609.87" y1="603.97" x2="615.87" y2="603.97" stroke="#2f74ee" stroke-width="1" />
<line x1="628.38" y1="572.38" x2="628.38" y2="598.07" stroke="#2f74ee" stroke-width="1" />
<line x1="625.38" y1="572.38" x2="631.38" y2="572.38" stroke="#2f74ee" stroke-width="1" />
<line x1="625.38" y1="598.07" x2="631.38" y2="598.07" stroke="#2f74ee" stroke-width="1" />
<line x1="643.89" y1="551.31" x2="643.89" y2="597.55" stroke="#2f74ee" stroke-width="1" />
<line x1="640.89" y1="551.31" x2="646.89" y2="551.31" stroke="#2f74ee" stroke-width="1" />
<line x1="640.89" y1="597.55" x2="646.89" y2="597.55" stroke="#2f74ee" stroke-width="1" />
<line x1="659.4" y1="524.08" x2="659.4" y2="590.87" stroke="#2f74ee" stroke-width="1" />
<line x1="656.4" y1="524.08" x2="662.4" y2="524.08" stroke="#2f74ee" stroke-width="1" />
<line x1="656.4" y1="590.87" x2="662.4" y2="590.87" stroke="#2f74ee" stroke-width="1" />
<line x1="674.91" y1="522.02" x2="674.91" y2="589.33" stroke="#2f74ee" stroke-width="1" />
<line x1="671.91" y1="522.02" x2="677.91" y2="522.02" stroke="#2f74ee" stroke-width="1" />
<line x1="671.91" y1="589.33" x2="677.91" y2="589.33" stroke="#2f74ee" stroke-width="1" />
<line x1="690.42" y1="507.38" x2="690.42" y2="581.88" stroke="#2f74ee" stroke-width="1" />
<line x1="687.42" y1="507.38" x2="693.42" y2="507.38" stroke="#2f74ee" stroke-width="1" />
<line x1="687.42" y1="581.88" x2="693.42" y2="581.88" stroke="#2f74ee" stroke-width="1" />
<line x1="519.81" y1="618.87" x2="519.81" y2="621.44" stroke="#22228f" stroke-width="1" />
<line x1="516.81" y1="618.87" x2="522.81" y2="618.87" stroke="#22228f" stroke-width="1" />
<line x1="516.81" y1="621.44" x2="522.81" y2="621.44" stroke="#22228f" stroke-width="1" />
<line x1="535.32" y1="610.91" x2="535.32" y2="618.62" stroke="#22228f" stroke-width="1" />
<line x1="532.32" y1="610.91" x2="538.32" y2="610.91" stroke="#22228f" stroke-width="1" />
<line x1="532.32" y1="618.62" x2="538.32" y2="618.62" stroke="#22228f" stroke-width="1" />
<line x1="550.83" y1="608.08" x2="550.83" y2="618.36" stroke="#22228f" stroke-width="1" />
<line x1="547.83" y1="608.08" x2="553.83" y2="608.08" stroke="#22228f" stroke-width="1" />
<line x1="547.83" y1="618.36" x2="553.83" y2="618.36" stroke="#22228f" stroke-width="1" />
<line x1="566.34" y1="608.08" x2="566.34" y2="618.36" stroke="#22228f" stroke-width="1" />
<line x1="563.34" y1="608.08" x2="569.34" y2="608.08" stroke="#22228f" stroke-width="1" />
<line x1="563.34" y1="618.36" x2="569.34" y2="618.36" stroke="#22228f" stroke-width="1" />
<line x1="581.85" y1="608.6" x2="581.85" y2="618.87" stroke="#22228f" stroke-width="1" />
<line x1="578.85" y1="608.6" x2="584.85" y2="608.6" stroke="#22228f" stroke-width="1" />
<line x1="578.85" y1="618.87" x2="584.85" y2="618.87" stroke="#22228f" stroke-width="1" />
<line x1="597.36" y1="589.84" x2="597.36" y2="610.4" stroke="#22228f" stroke-width="1" />
<line x1="594.36" y1="589.84" x2="600.36" y2="589.84" stroke="#22228f" stroke-width="1" />
<line x1="594.36" y1="610.4" x2="600.36" y2="610.4" stroke="#22228f" stroke-width="1" />
<line x1="612.87" y1="566.47" x2="612.87" y2="597.29" stroke="#22228f" stroke-width="1" />
<line x1="609.87" y1="566.47" x2="615.87" y2="566.47" stroke="#22228f" stroke-width="1" />
<line x1="609.87" y1="597.29" x2="615.87" y2="597.29" stroke="#22228f" stroke-width="1" />
<line x1="628.38" y1="546.17" x2="628.38" y2="587.28" stroke="#22228f" stroke-width="1" />
<line x1="625.38" y1="546.17" x2="631.38" y2="546.17" stroke="#22228f" stroke-width="1" />
<line x1="625.38" y1="587.28" x2="631.38" y2="587.28" stroke="#22228f" stroke-width="1" />
<line x1="643.89" y1="525.11" x2="643.89" y2="579.05" stroke="#22228f" stroke-width="1" />
<line x1="640.89" y1="525.11" x2="646.89" y2="525.11" stroke="#22228f" stroke-width="1" />
<line x1="640.89" y1="579.05" x2="646.89" y2="579.05" stroke="#22228f" stroke-width="1" />
<line x1="659.4" y1="506.61" x2="659.4" y2="568.26" stroke="#22228f" stroke-width="1" />
<line x1="656.4" y1="506.61" x2="662.4" y2="506.61" stroke="#22228f" stroke-width="1" />
<line x1="656.4" y1="568.26" x2="662.4" y2="568.26" stroke="#22228f" stroke-width="1" />
<line x1="674.91" y1="494.53" x2="674.91" y2="559.27" stroke="#22228f" stroke-width="1" />
<line x1="671.91" y1="494.53" x2="677.91" y2="494.53" stroke="#22228f" stroke-width="1" />
<line x1="671.91" y1="559.27" x2="677.91" y2="559.27" stroke="#22228f" stroke-width="1" />
<line x1="690.42" y1="473.98" x2="690.42" y2="520.22" stroke="#22228f" stroke-width="1" />
<line x1="687.42" y1="473.98" x2="693.42" y2="473.98" stroke="#22228f" stroke-width="1" />
<line x1="687.42" y1="520.22" x2="693.42" y2="520.22" stroke="#22228f" stroke-width="1" />
</g>
<line x1="504.3" y1="416.5" x2="504.3" y2="621.7" stroke="#222" stroke-width="1" shape-rendering="crispEdges"/>
<line x1="504.3" y1="621.7" x2="693.3" y2="621.7" stroke="#333" stroke-width="1" shape-rendering="crispEdges"/>
<line x1="500.3" y1="621.7" x2="504.3" y2="621.7" stroke="#222" stroke-width="1" shape-rendering="crispEdges"/>
<line x1="500.3" y1="596.01" x2="504.3" y2="596.01" stroke="#222" stroke-width="1" shape-rendering="crispEdges"/>
<line x1="500.3" y1="570.32" x2="504.3" y2="570.32" stroke="#222" stroke-width="1" shape-rendering="crispEdges"/>
<line x1="500.3" y1="544.63" x2="504.3" y2="544.63" stroke="#222" stroke-width="1" shape-rendering="crispEdges"/>
<line x1="500.3" y1="518.94" x2="504.3" y2="518.94" stroke="#222" stroke-width="1" shape-rendering="crispEdges"/>
<line x1="500.3" y1="493.25" x2="504.3" y2="493.25" stroke="#222" stroke-width="1" shape-rendering="crispEdges"/>
<line x1="500.3" y1="467.56" x2="504.3" y2="467.56" stroke="#222" stroke-width="1" shape-rendering="crispEdges"/>
<line x1="500.3" y1="441.87" x2="504.3" y2="441.87" stroke="#222" stroke-width="1" shape-rendering="crispEdges"/>
<line x1="500.3" y1="416.18" x2="504.3" y2="416.18" stroke="#222" stroke-width="1" shape-rendering="crispEdges"/>
<text x="492.8" y="626.5" font-size="12.5" text-anchor="end" fill="#111" stroke="#111" stroke-width="0.2" >0</text>
<text x="492.8" y="575.12" font-size="12.5" text-anchor="end" fill="#111" stroke="#111" stroke-width="0.2" >0.2</text>
<text x="492.8" y="523.74" font-size="12.5" text-anchor="end" fill="#111" stroke="#111" stroke-width="0.2" >0.4</text>
<text x="492.8" y="472.36" font-size="12.5" text-anchor="end" fill="#111" stroke="#111" stroke-width="0.2" >0.6</text>
<text x="492.8" y="420.98" font-size="12.5" text-anchor="end" fill="#111" stroke="#111" stroke-width="0.2" >0.8</text>
<line x1="504.3" y1="621.7" x2="504.3" y2="625.7" stroke="#333" stroke-width="1" shape-rendering="crispEdges"/>
<line x1="519.81" y1="621.7" x2="519.81" y2="625.7" stroke="#333" stroke-width="1" shape-rendering="crispEdges"/>
<line x1="535.32" y1="621.7" x2="535.32" y2="625.7" stroke="#333" stroke-width="1" shape-rendering="crispEdges"/>
<line x1="550.83" y1="621.7" x2="550.83" y2="625.7" stroke="#333" stroke-width="1" shape-rendering="crispEdges"/>
<line x1="566.34" y1="621.7" x2="566.34" y2="625.7" stroke="#333" stroke-width="1" shape-rendering="crispEdges"/>
<line x1="581.85" y1="621.7" x2="581.85" y2="625.7" stroke="#333" stroke-width="1" shape-rendering="crispEdges"/>
<line x1="597.36" y1="621.7" x2="597.36" y2="625.7" stroke="#333" stroke-width="1" shape-rendering="crispEdges"/>
<line x1="612.87" y1="621.7" x2="612.87" y2="625.7" stroke="#333" stroke-width="1" shape-rendering="crispEdges"/>
<line x1="628.38" y1="621.7" x2="628.38" y2="625.7" stroke="#333" stroke-width="1" shape-rendering="crispEdges"/>
<line x1="643.89" y1="621.7" x2="643.89" y2="625.7" stroke="#333" stroke-width="1" shape-rendering="crispEdges"/>
<line x1="659.4" y1="621.7" x2="659.4" y2="625.7" stroke="#333" stroke-width="1" shape-rendering="crispEdges"/>
<line x1="674.91" y1="621.7" x2="674.91" y2="625.7" stroke="#333" stroke-width="1" shape-rendering="crispEdges"/>
<line x1="690.42" y1="621.7" x2="690.42" y2="625.7" stroke="#333" stroke-width="1" shape-rendering="crispEdges"/>
<text x="504.3" y="641.3" font-size="12.5" text-anchor="middle" fill="#111" stroke="#111" stroke-width="0.2" >0</text>
<text x="535.32" y="641.3" font-size="12.5" text-anchor="middle" fill="#111" stroke="#111" stroke-width="0.2" >1</text>
<text x="566.34" y="641.3" font-size="12.5" text-anchor="middle" fill="#111" stroke="#111" stroke-width="0.2" >2</text>
<text x="597.36" y="641.3" font-size="12.5" text-anchor="middle" fill="#111" stroke="#111" stroke-width="0.2" >3</text>
<text x="628.38" y="641.3" font-size="12.5" text-anchor="middle" fill="#111" stroke="#111" stroke-width="0.2" >4</text>
<text x="659.4" y="641.3" font-size="12.5" text-anchor="middle" fill="#111" stroke="#111" stroke-width="0.2" >5</text>
<text x="690.42" y="641.3" font-size="12.5" text-anchor="middle" fill="#111" stroke="#111" stroke-width="0.2" >6</text>
<g clip-path="url(#cb2m)">
<polyline points="504.3,621.7 519.81,614.51 535.32,612.71 550.83,606.29 566.34,602.69 581.85,592.16 597.36,590.87 612.87,571.6 628.38,563.9 643.89,547.2 659.4,536.92 674.91,524.85 690.42,515.6" fill="none" stroke="#737977" stroke-width="2" stroke-linejoin="round"/>
<circle cx="504.3" cy="621.7" r="3" fill="#737977"/>
<circle cx="519.81" cy="614.51" r="3" fill="#737977"/>
<circle cx="535.32" cy="612.71" r="3" fill="#737977"/>
<circle cx="550.83" cy="606.29" r="3" fill="#737977"/>
<circle cx="566.34" cy="602.69" r="3" fill="#737977"/>
<circle cx="581.85" cy="592.16" r="3" fill="#737977"/>
<circle cx="597.36" cy="590.87" r="3" fill="#737977"/>
<circle cx="612.87" cy="571.6" r="3" fill="#737977"/>
<circle cx="628.38" cy="563.9" r="3" fill="#737977"/>
<circle cx="643.89" cy="547.2" r="3" fill="#737977"/>
<circle cx="659.4" cy="536.92" r="3" fill="#737977"/>
<circle cx="674.91" cy="524.85" r="3" fill="#737977"/>
<circle cx="690.42" cy="515.6" r="3" fill="#737977"/>
<polyline points="504.3,621.7 519.81,613.74 535.32,604.74 550.83,595.24 566.34,586.76 581.85,577.26 597.36,567.24 612.87,547.2 628.38,537.95 643.89,514.83 659.4,497.87 674.91,487.34 690.42,475.01" fill="none" stroke="#151515" stroke-width="2" stroke-linejoin="round"/>
<circle cx="504.3" cy="621.7" r="3" fill="#151515"/>
<circle cx="519.81" cy="613.74" r="3" fill="#151515"/>
<circle cx="535.32" cy="604.74" r="3" fill="#151515"/>
<circle cx="550.83" cy="595.24" r="3" fill="#151515"/>
<circle cx="566.34" cy="586.76" r="3" fill="#151515"/>
<circle cx="581.85" cy="577.26" r="3" fill="#151515"/>
<circle cx="597.36" cy="567.24" r="3" fill="#151515"/>
<circle cx="612.87" cy="547.2" r="3" fill="#151515"/>
<circle cx="628.38" cy="537.95" r="3" fill="#151515"/>
<circle cx="643.89" cy="514.83" r="3" fill="#151515"/>
<circle cx="659.4" cy="497.87" r="3" fill="#151515"/>
<circle cx="674.91" cy="487.34" r="3" fill="#151515"/>
<circle cx="690.42" cy="475.01" r="3" fill="#151515"/>
<polyline points="504.3,621.7 519.81,616.56 535.32,610.14 550.83,606.29 566.34,603.2 581.85,601.15 597.36,594.98 612.87,592.41 628.38,585.22 643.89,574.43 659.4,557.48 674.91,555.68 690.42,544.63" fill="none" stroke="#2f74ee" stroke-width="2" stroke-linejoin="round"/>
<rect x="501.3" y="618.7" width="6" height="6" fill="#2f74ee"/>
<rect x="516.81" y="613.56" width="6" height="6" fill="#2f74ee"/>
<rect x="532.32" y="607.14" width="6" height="6" fill="#2f74ee"/>
<rect x="547.83" y="603.29" width="6" height="6" fill="#2f74ee"/>
<rect x="563.34" y="600.2" width="6" height="6" fill="#2f74ee"/>
<rect x="578.85" y="598.15" width="6" height="6" fill="#2f74ee"/>
<rect x="594.36" y="591.98" width="6" height="6" fill="#2f74ee"/>
<rect x="609.87" y="589.41" width="6" height="6" fill="#2f74ee"/>
<rect x="625.38" y="582.22" width="6" height="6" fill="#2f74ee"/>
<rect x="640.89" y="571.43" width="6" height="6" fill="#2f74ee"/>
<rect x="656.4" y="554.48" width="6" height="6" fill="#2f74ee"/>
<rect x="671.91" y="552.68" width="6" height="6" fill="#2f74ee"/>
<rect x="687.42" y="541.63" width="6" height="6" fill="#2f74ee"/>
<polyline points="504.3,621.7 519.81,620.16 535.32,614.76 550.83,613.22 566.34,613.22 581.85,613.74 597.36,600.12 612.87,581.88 628.38,566.72 643.89,552.08 659.4,537.44 674.91,526.9 690.42,497.1" fill="none" stroke="#1010e6" stroke-width="2" stroke-linejoin="round"/>
<rect x="501.3" y="618.7" width="6" height="6" fill="#1010e6"/>
<rect x="516.81" y="617.16" width="6" height="6" fill="#1010e6"/>
<rect x="532.32" y="611.76" width="6" height="6" fill="#1010e6"/>
<rect x="547.83" y="610.22" width="6" height="6" fill="#1010e6"/>
<rect x="563.34" y="610.22" width="6" height="6" fill="#1010e6"/>
<rect x="578.85" y="610.74" width="6" height="6" fill="#1010e6"/>
<rect x="594.36" y="597.12" width="6" height="6" fill="#1010e6"/>
<rect x="609.87" y="578.88" width="6" height="6" fill="#1010e6"/>
<rect x="625.38" y="563.72" width="6" height="6" fill="#1010e6"/>
<rect x="640.89" y="549.08" width="6" height="6" fill="#1010e6"/>
<rect x="656.4" y="534.44" width="6" height="6" fill="#1010e6"/>
<rect x="671.91" y="523.9" width="6" height="6" fill="#1010e6"/>
<rect x="687.42" y="494.1" width="6" height="6" fill="#1010e6"/>
</g>
<text x="510.5" y="432.8" font-size="12.3" text-anchor="start" fill="#111" stroke="#111" stroke-width="0.2" >1 mM</text>
<text x="510" y="447.4" font-size="11.7"><tspan fill="#4882dc" stroke="#4882dc" stroke-width="0.2">P=0.025,</tspan> <tspan fill="#2828c0" stroke="#2828c0" stroke-width="0.2">P=0.504</tspan></text>
<line x1="504.3" y1="654.2" x2="693.3" y2="654.2" stroke="#333" stroke-width="1" shape-rendering="crispEdges"/>
<line x1="693.3" y1="654.2" x2="693.3" y2="697" stroke="#444" stroke-width="1" shape-rendering="crispEdges"/>
<clipPath id="cb2s"><rect x="500.3" y="654.2" width="197" height="48.8"/></clipPath>
<g clip-path="url(#cb2s)">
<line x1="628.38" y1="694.16" x2="628.38" y2="697" stroke="#737977" stroke-width="1" />
<line x1="625.38" y1="694.16" x2="631.38" y2="694.16" stroke="#737977" stroke-width="1" />
<line x1="625.38" y1="697" x2="631.38" y2="697" stroke="#737977" stroke-width="1" />
<line x1="643.89" y1="694.16" x2="643.89" y2="697" stroke="#737977" stroke-width="1" />
<line x1="640.89" y1="694.16" x2="646.89" y2="694.16" stroke="#737977" stroke-width="1" />
<line x1="640.89" y1="697" x2="646.89" y2="697" stroke="#737977" stroke-width="1" />
<line x1="659.4" y1="693.02" x2="659.4" y2="696.43" stroke="#737977" stroke-width="1" />
<line x1="656.4" y1="693.02" x2="662.4" y2="693.02" stroke="#737977" stroke-width="1" />
<line x1="656.4" y1="696.43" x2="662.4" y2="696.43" stroke="#737977" stroke-width="1" />
<line x1="674.91" y1="691.89" x2="674.91" y2="696.43" stroke="#737977" stroke-width="1" />
<line x1="671.91" y1="691.89" x2="677.91" y2="691.89" stroke="#737977" stroke-width="1" />
<line x1="671.91" y1="696.43" x2="677.91" y2="696.43" stroke="#737977" stroke-width="1" />
<line x1="690.42" y1="685.64" x2="690.42" y2="691.32" stroke="#737977" stroke-width="1" />
<line x1="687.42" y1="685.64" x2="693.42" y2="685.64" stroke="#737977" stroke-width="1" />
<line x1="687.42" y1="691.32" x2="693.42" y2="691.32" stroke="#737977" stroke-width="1" />
<line x1="612.87" y1="693.31" x2="612.87" y2="696.15" stroke="#151515" stroke-width="1" />
<line x1="609.87" y1="693.31" x2="615.87" y2="693.31" stroke="#151515" stroke-width="1" />
<line x1="609.87" y1="696.15" x2="615.87" y2="696.15" stroke="#151515" stroke-width="1" />
<line x1="628.38" y1="689.05" x2="628.38" y2="693.59" stroke="#151515" stroke-width="1" />
<line x1="625.38" y1="689.05" x2="631.38" y2="689.05" stroke="#151515" stroke-width="1" />
<line x1="625.38" y1="693.59" x2="631.38" y2="693.59" stroke="#151515" stroke-width="1" />
<line x1="643.89" y1="689.05" x2="643.89" y2="693.59" stroke="#151515" stroke-width="1" />
<line x1="640.89" y1="689.05" x2="646.89" y2="689.05" stroke="#151515" stroke-width="1" />
<line x1="640.89" y1="693.59" x2="646.89" y2="693.59" stroke="#151515" stroke-width="1" />
<line x1="659.4" y1="689.05" x2="659.4" y2="693.59" stroke="#151515" stroke-width="1" />
<line x1="656.4" y1="689.05" x2="662.4" y2="689.05" stroke="#151515" stroke-width="1" />
<line x1="656.4" y1="693.59" x2="662.4" y2="693.59" stroke="#151515" stroke-width="1" />
<line x1="674.91" y1="686.21" x2="674.91" y2="691.89" stroke="#151515" stroke-width="1" />
<line x1="671.91" y1="686.21" x2="677.91" y2="686.21" stroke="#151515" stroke-width="1" />
<line x1="671.91" y1="691.89" x2="677.91" y2="691.89" stroke="#151515" stroke-width="1" />
<line x1="690.42" y1="678.54" x2="690.42" y2="687.06" stroke="#151515" stroke-width="1" />
<line x1="687.42" y1="678.54" x2="693.42" y2="678.54" stroke="#151515" stroke-width="1" />
<line x1="687.42" y1="687.06" x2="693.42" y2="687.06" stroke="#151515" stroke-width="1" />
<line x1="597.36" y1="692.74" x2="597.36" y2="695.58" stroke="#22228f" stroke-width="1" />
<line x1="594.36" y1="692.74" x2="600.36" y2="692.74" stroke="#22228f" stroke-width="1" />
<line x1="594.36" y1="695.58" x2="600.36" y2="695.58" stroke="#22228f" stroke-width="1" />
<line x1="612.87" y1="692.74" x2="612.87" y2="695.58" stroke="#22228f" stroke-width="1" />
<line x1="609.87" y1="692.74" x2="615.87" y2="692.74" stroke="#22228f" stroke-width="1" />
<line x1="609.87" y1="695.58" x2="615.87" y2="695.58" stroke="#22228f" stroke-width="1" />
<line x1="628.38" y1="689.05" x2="628.38" y2="693.59" stroke="#22228f" stroke-width="1" />
<line x1="625.38" y1="689.05" x2="631.38" y2="689.05" stroke="#22228f" stroke-width="1" />
<line x1="625.38" y1="693.59" x2="631.38" y2="693.59" stroke="#22228f" stroke-width="1" />
<line x1="643.89" y1="689.05" x2="643.89" y2="693.59" stroke="#22228f" stroke-width="1" />
<line x1="640.89" y1="689.05" x2="646.89" y2="689.05" stroke="#22228f" stroke-width="1" />
<line x1="640.89" y1="693.59" x2="646.89" y2="693.59" stroke="#22228f" stroke-width="1" />
<line x1="659.4" y1="685.07" x2="659.4" y2="693.59" stroke="#22228f" stroke-width="1" />
<line x1="656.4" y1="685.07" x2="662.4" y2="685.07" stroke="#22228f" stroke-width="1" />
<line x1="656.4" y1="693.59" x2="662.4" y2="693.59" stroke="#22228f" stroke-width="1" />
<line x1="674.91" y1="675.7" x2="674.91" y2="692.74" stroke="#22228f" stroke-width="1" />
<line x1="671.91" y1="675.7" x2="677.91" y2="675.7" stroke="#22228f" stroke-width="1" />
<line x1="671.91" y1="692.74" x2="677.91" y2="692.74" stroke="#22228f" stroke-width="1" />
<line x1="690.42" y1="663.77" x2="690.42" y2="692.17" stroke="#22228f" stroke-width="1" />
<line x1="687.42" y1="663.77" x2="693.42" y2="663.77" stroke="#22228f" stroke-width="1" />
<line x1="687.42" y1="692.17" x2="693.42" y2="692.17" stroke="#22228f" stroke-width="1" />
</g>
<line x1="504.3" y1="654.2" x2="504.3" y2="697" stroke="#222" stroke-width="1" shape-rendering="crispEdges"/>
<line x1="504.3" y1="697" x2="693.3" y2="697" stroke="#333" stroke-width="1" shape-rendering="crispEdges"/>
<line x1="500.3" y1="697" x2="504.3" y2="697" stroke="#222" stroke-width="1" shape-rendering="crispEdges"/>
<line x1="500.3" y1="682.8" x2="504.3" y2="682.8" stroke="#222" stroke-width="1" shape-rendering="crispEdges"/>
<line x1="500.3" y1="668.6" x2="504.3" y2="668.6" stroke="#222" stroke-width="1" shape-rendering="crispEdges"/>
<text x="492.8" y="701.6" font-size="12.5" text-anchor="end" fill="#111" stroke="#111" stroke-width="0.2" >0</text>
<text x="492.8" y="673.2" font-size="12.5" text-anchor="end" fill="#111" stroke="#111" stroke-width="0.2" >0.1</text>
<line x1="504.3" y1="697" x2="504.3" y2="701" stroke="#333" stroke-width="1" shape-rendering="crispEdges"/>
<line x1="519.81" y1="697" x2="519.81" y2="701" stroke="#333" stroke-width="1" shape-rendering="crispEdges"/>
<line x1="535.32" y1="697" x2="535.32" y2="701" stroke="#333" stroke-width="1" shape-rendering="crispEdges"/>
<line x1="550.83" y1="697" x2="550.83" y2="701" stroke="#333" stroke-width="1" shape-rendering="crispEdges"/>
<line x1="566.34" y1="697" x2="566.34" y2="701" stroke="#333" stroke-width="1" shape-rendering="crispEdges"/>
<line x1="581.85" y1="697" x2="581.85" y2="701" stroke="#333" stroke-width="1" shape-rendering="crispEdges"/>
<line x1="597.36" y1="697" x2="597.36" y2="701" stroke="#333" stroke-width="1" shape-rendering="crispEdges"/>
<line x1="612.87" y1="697" x2="612.87" y2="701" stroke="#333" stroke-width="1" shape-rendering="crispEdges"/>
<line x1="628.38" y1="697" x2="628.38" y2="701" stroke="#333" stroke-width="1" shape-rendering="crispEdges"/>
<line x1="643.89" y1="697" x2="643.89" y2="701" stroke="#333" stroke-width="1" shape-rendering="crispEdges"/>
<line x1="659.4" y1="697" x2="659.4" y2="701" stroke="#333" stroke-width="1" shape-rendering="crispEdges"/>
<line x1="674.91" y1="697" x2="674.91" y2="701" stroke="#333" stroke-width="1" shape-rendering="crispEdges"/>
<line x1="690.42" y1="697" x2="690.42" y2="701" stroke="#333" stroke-width="1" shape-rendering="crispEdges"/>
<text x="504.3" y="715.6" font-size="12.5" text-anchor="middle" fill="#111" stroke="#111" stroke-width="0.2" >0</text>
<text x="535.32" y="715.6" font-size="12.5" text-anchor="middle" fill="#111" stroke="#111" stroke-width="0.2" >1</text>
<text x="566.34" y="715.6" font-size="12.5" text-anchor="middle" fill="#111" stroke="#111" stroke-width="0.2" >2</text>
<text x="597.36" y="715.6" font-size="12.5" text-anchor="middle" fill="#111" stroke="#111" stroke-width="0.2" >3</text>
<text x="628.38" y="715.6" font-size="12.5" text-anchor="middle" fill="#111" stroke="#111" stroke-width="0.2" >4</text>
<text x="659.4" y="715.6" font-size="12.5" text-anchor="middle" fill="#111" stroke="#111" stroke-width="0.2" >5</text>
<text x="690.42" y="715.6" font-size="12.5" text-anchor="middle" fill="#111" stroke="#111" stroke-width="0.2" >6</text>
<g clip-path="url(#cb2s)">
<polyline points="504.3,697 519.81,697 535.32,697 550.83,697 566.34,697 581.85,697 597.36,697 612.87,697 628.38,695.58 643.89,695.58 659.4,694.73 674.91,694.16 690.42,688.48" fill="none" stroke="#737977" stroke-width="2" stroke-linejoin="round"/>
<circle cx="504.3" cy="697" r="3" fill="#737977"/>
<circle cx="519.81" cy="697" r="3" fill="#737977"/>
<circle cx="535.32" cy="697" r="3" fill="#737977"/>
<circle cx="550.83" cy="697" r="3" fill="#737977"/>
<circle cx="566.34" cy="697" r="3" fill="#737977"/>
<circle cx="581.85" cy="697" r="3" fill="#737977"/>
<circle cx="597.36" cy="697" r="3" fill="#737977"/>
<circle cx="612.87" cy="697" r="3" fill="#737977"/>
<circle cx="628.38" cy="695.58" r="3" fill="#737977"/>
<circle cx="643.89" cy="695.58" r="3" fill="#737977"/>
<circle cx="659.4" cy="694.73" r="3" fill="#737977"/>
<circle cx="674.91" cy="694.16" r="3" fill="#737977"/>
<circle cx="690.42" cy="688.48" r="3" fill="#737977"/>
<polyline points="504.3,697 519.81,697 535.32,697 550.83,697 566.34,697 581.85,697 597.36,695.58 612.87,694.73 628.38,691.32 643.89,691.32 659.4,691.32 674.91,689.05 690.42,682.8" fill="none" stroke="#151515" stroke-width="2" stroke-linejoin="round"/>
<circle cx="504.3" cy="697" r="3" fill="#151515"/>
<circle cx="519.81" cy="697" r="3" fill="#151515"/>
<circle cx="535.32" cy="697" r="3" fill="#151515"/>
<circle cx="550.83" cy="697" r="3" fill="#151515"/>
<circle cx="566.34" cy="697" r="3" fill="#151515"/>
<circle cx="581.85" cy="697" r="3" fill="#151515"/>
<circle cx="597.36" cy="695.58" r="3" fill="#151515"/>
<circle cx="612.87" cy="694.73" r="3" fill="#151515"/>
<circle cx="628.38" cy="691.32" r="3" fill="#151515"/>
<circle cx="643.89" cy="691.32" r="3" fill="#151515"/>
<circle cx="659.4" cy="691.32" r="3" fill="#151515"/>
<circle cx="674.91" cy="689.05" r="3" fill="#151515"/>
<circle cx="690.42" cy="682.8" r="3" fill="#151515"/>
<polyline points="504.3,697 519.81,697 535.32,697 550.83,697 566.34,697 581.85,697 597.36,697 612.87,697 628.38,697 643.89,697 659.4,697 674.91,697 690.42,697" fill="none" stroke="#2f74ee" stroke-width="2" stroke-linejoin="round"/>
<rect x="501.3" y="694" width="6" height="6" fill="#2f74ee"/>
<rect x="516.81" y="694" width="6" height="6" fill="#2f74ee"/>
<rect x="532.32" y="694" width="6" height="6" fill="#2f74ee"/>
<rect x="547.83" y="694" width="6" height="6" fill="#2f74ee"/>
<rect x="563.34" y="694" width="6" height="6" fill="#2f74ee"/>
<rect x="578.85" y="694" width="6" height="6" fill="#2f74ee"/>
<rect x="594.36" y="694" width="6" height="6" fill="#2f74ee"/>
<rect x="609.87" y="694" width="6" height="6" fill="#2f74ee"/>
<rect x="625.38" y="694" width="6" height="6" fill="#2f74ee"/>
<rect x="640.89" y="694" width="6" height="6" fill="#2f74ee"/>
<rect x="656.4" y="694" width="6" height="6" fill="#2f74ee"/>
<rect x="671.91" y="694" width="6" height="6" fill="#2f74ee"/>
<rect x="687.42" y="694" width="6" height="6" fill="#2f74ee"/>
<polyline points="504.3,697 519.81,697 535.32,697 550.83,697 566.34,697 581.85,697 597.36,694.16 612.87,694.16 628.38,691.32 643.89,691.32 659.4,689.33 674.91,684.22 690.42,677.97" fill="none" stroke="#1010e6" stroke-width="2" stroke-linejoin="round"/>
<rect x="501.3" y="694" width="6" height="6" fill="#1010e6"/>
<rect x="516.81" y="694" width="6" height="6" fill="#1010e6"/>
<rect x="532.32" y="694" width="6" height="6" fill="#1010e6"/>
<rect x="547.83" y="694" width="6" height="6" fill="#1010e6"/>
<rect x="563.34" y="694" width="6" height="6" fill="#1010e6"/>
<rect x="578.85" y="694" width="6" height="6" fill="#1010e6"/>
<rect x="594.36" y="691.16" width="6" height="6" fill="#1010e6"/>
<rect x="609.87" y="691.16" width="6" height="6" fill="#1010e6"/>
<rect x="625.38" y="688.32" width="6" height="6" fill="#1010e6"/>
<rect x="640.89" y="688.32" width="6" height="6" fill="#1010e6"/>
<rect x="656.4" y="686.33" width="6" height="6" fill="#1010e6"/>
<rect x="671.91" y="681.22" width="6" height="6" fill="#1010e6"/>
<rect x="687.42" y="674.97" width="6" height="6" fill="#1010e6"/>
</g>
<text x="510" y="667.1" font-size="11.7"><tspan fill="#4882dc" stroke="#4882dc" stroke-width="0.2">P≈1,</tspan> <tspan fill="#2828c0" stroke="#2828c0" stroke-width="0.2">P=0.801</tspan></text>
<text transform="translate(10.8,553.75) rotate(-90)" font-size="14.3" text-anchor="middle" fill="#111" stroke="#111" stroke-width="0.2">Cumulative Capture Proportion</text>
<text transform="translate(702.8,529.4) rotate(90)" font-size="14.3" text-anchor="middle" fill="#111" stroke="#111" stroke-width="0.2">Yeast-baited traps</text>
<text transform="translate(702.8,682.5) rotate(90)" font-size="14.3" text-anchor="middle" fill="#111" stroke="#111" stroke-width="0.2">Unbaited traps</text>
<text x="371.6" y="739" font-size="14.3" text-anchor="middle" fill="#111" stroke="#111" stroke-width="0.2" >Time (hr)</text>
</svg></body></html>
